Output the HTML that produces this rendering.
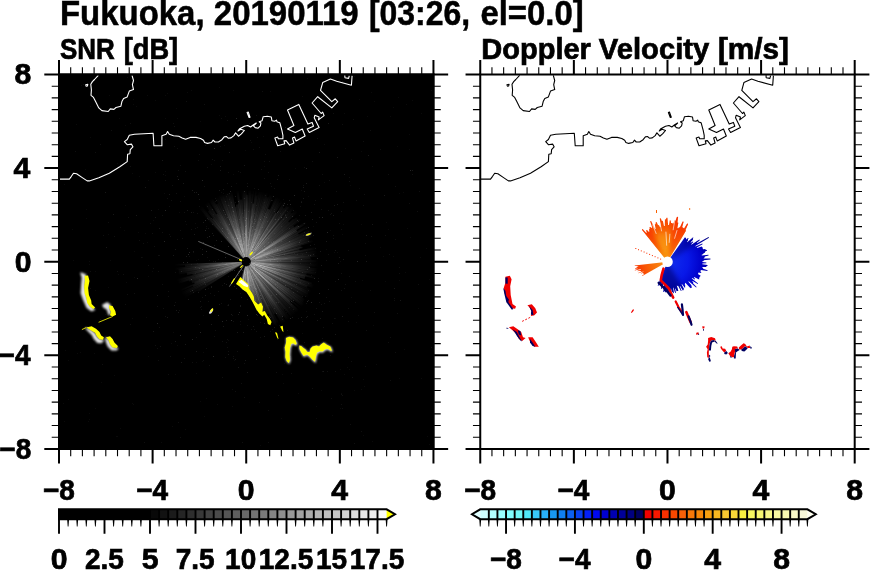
<!DOCTYPE html>
<html lang="en"><head><meta charset="utf-8"><title>Fukuoka, 20190119 [03:26, el=0.0]</title>
<style>html,body{margin:0;padding:0;background:#fff;width:870px;height:570px;overflow:hidden}svg{display:block}text{white-space:pre}</style></head>
<body>
<svg width="870" height="570" viewBox="0 0 870 570" style="display:block">
<rect width="870" height="570" fill="#fff"/>
<defs>
<radialGradient id="rg" gradientUnits="userSpaceOnUse" cx="0" cy="0" r="72"><stop offset="0" stop-color="#fff" stop-opacity="1"/><stop offset="0.15" stop-color="#fff" stop-opacity="1"/><stop offset="0.3" stop-color="#fff" stop-opacity="0.72"/><stop offset="0.5" stop-color="#fff" stop-opacity="0.4"/><stop offset="0.75" stop-color="#fff" stop-opacity="0.15"/><stop offset="1" stop-color="#fff" stop-opacity="0"/></radialGradient>
<radialGradient id="rg2" gradientUnits="userSpaceOnUse" cx="0" cy="0" r="22"><stop offset="0" stop-color="#fff" stop-opacity="0.5"/><stop offset="1" stop-color="#fff" stop-opacity="0"/></radialGradient>
<radialGradient id="og" gradientUnits="userSpaceOnUse" cx="0" cy="0" r="46"><stop offset="0" stop-color="#f8a818"/><stop offset="0.45" stop-color="#f88008"/><stop offset="1" stop-color="#f83800"/></radialGradient>
<radialGradient id="og2" gradientUnits="userSpaceOnUse" cx="0" cy="0" r="34"><stop offset="0" stop-color="#f89818"/><stop offset="0.5" stop-color="#f86808"/><stop offset="1" stop-color="#f83000"/></radialGradient>
<radialGradient id="bg" gradientUnits="userSpaceOnUse" cx="0" cy="0" r="46"><stop offset="0" stop-color="#1030f0"/><stop offset="0.45" stop-color="#0818e8"/><stop offset="0.75" stop-color="#0000c8"/><stop offset="1" stop-color="#000088"/></radialGradient>
<filter id="bl" x="-20%" y="-20%" width="140%" height="140%"><feGaussianBlur stdDeviation="0.8"/></filter>
<filter id="bl2" x="-30%" y="-30%" width="160%" height="160%"><feGaussianBlur stdDeviation="2.5"/></filter>
</defs>
<rect x="58.00" y="73.50" width="376.45" height="376.50" fill="#000"/>
<g transform="translate(246.2 261.7)">
<path d="M0 0L0.0 -66.9L2.0 -66.9Z" fill="url(#rg)" opacity="0.89"/>
<path d="M0 0L1.9 -71.3L3.4 -71.2Z" fill="url(#rg)" opacity="0.45"/>
<path d="M0 0L3.6 -82.9L6.1 -82.8Z" fill="url(#rg)" opacity="0.71"/>
<path d="M0 0L4.8 -68.0L6.5 -67.8Z" fill="url(#rg)" opacity="0.43"/>
<path d="M0 0L6.5 -71.5L8.1 -71.3Z" fill="url(#rg)" opacity="0.54"/>
<path d="M0 0L6.3 -58.1L7.6 -58.0Z" fill="url(#rg)" opacity="0.83"/>
<path d="M0 0L9.1 -72.2L10.9 -72.0Z" fill="url(#rg)" opacity="0.73"/>
<path d="M0 0L9.8 -66.3L11.2 -66.0Z" fill="url(#rg)" opacity="0.71"/>
<path d="M0 0L13.3 -80.3L15.3 -79.9Z" fill="url(#rg)" opacity="0.44"/>
<path d="M0 0L13.1 -70.2L15.3 -69.8Z" fill="url(#rg)" opacity="0.63"/>
<path d="M0 0L16.8 -78.3L19.8 -77.6Z" fill="url(#rg)" opacity="0.57"/>
<path d="M0 0L17.6 -70.2L19.4 -69.8Z" fill="url(#rg)" opacity="0.47"/>
<path d="M0 0L18.9 -69.1L20.7 -68.6Z" fill="url(#rg)" opacity="0.60"/>
<path d="M0 0L21.0 -70.9L22.5 -70.4Z" fill="url(#rg)" opacity="0.70"/>
<path d="M0 0L20.4 -64.8L22.4 -64.1Z" fill="url(#rg)" opacity="0.76"/>
<path d="M0 0L27.2 -78.9L29.6 -78.0Z" fill="url(#rg)" opacity="0.65"/>
<path d="M0 0L27.8 -74.4L30.1 -73.5Z" fill="url(#rg)" opacity="0.57"/>
<path d="M0 0L21.4 -53.0L23.9 -51.9Z" fill="url(#rg)" opacity="0.81"/>
<path d="M0 0L34.0 -74.5L36.2 -73.5Z" fill="url(#rg)" opacity="0.68"/>
<path d="M0 0L32.3 -66.2L35.4 -64.5Z" fill="url(#rg)" opacity="0.64"/>
<path d="M0 0L32.3 -59.4L33.6 -58.7Z" fill="url(#rg)" opacity="0.47"/>
<path d="M0 0L34.4 -60.8L36.2 -59.7Z" fill="url(#rg)" opacity="0.49"/>
<path d="M0 0L29.4 -48.9L30.4 -48.2Z" fill="url(#rg)" opacity="0.90"/>
<path d="M0 0L43.4 -69.5L46.1 -67.7Z" fill="url(#rg)" opacity="0.70"/>
<path d="M0 0L36.6 -54.3L38.3 -53.2Z" fill="url(#rg)" opacity="0.59"/>
<path d="M0 0L40.0 -56.0L41.7 -54.8Z" fill="url(#rg)" opacity="0.71"/>
<path d="M0 0L41.8 -55.4L43.0 -54.5Z" fill="url(#rg)" opacity="0.89"/>
<path d="M0 0L47.7 -61.0L50.5 -58.6Z" fill="url(#rg)" opacity="0.45"/>
<path d="M0 0L55.6 -65.1L57.5 -63.4Z" fill="url(#rg)" opacity="0.74"/>
<path d="M0 0L44.6 -49.5L46.1 -48.1Z" fill="url(#rg)" opacity="0.56"/>
<path d="M0 0L57.8 -60.9L60.6 -58.1Z" fill="url(#rg)" opacity="0.59"/>
<path d="M0 0L41.9 -40.5L43.1 -39.2Z" fill="url(#rg)" opacity="0.50"/>
<path d="M0 0L46.9 -42.9L47.8 -41.9Z" fill="url(#rg)" opacity="0.52"/>
<path d="M0 0L50.0 -44.3L52.1 -41.8Z" fill="url(#rg)" opacity="0.54"/>
<path d="M0 0L53.3 -43.2L54.6 -41.5Z" fill="url(#rg)" opacity="0.45"/>
<path d="M0 0L46.7 -35.8L48.1 -34.0Z" fill="url(#rg)" opacity="0.55"/>
<path d="M0 0L51.5 -36.8L52.6 -35.2Z" fill="url(#rg)" opacity="0.85"/>
<path d="M0 0L62.9 -42.4L64.2 -40.5Z" fill="url(#rg)" opacity="0.91"/>
<path d="M0 0L50.0 -31.9L51.0 -30.3Z" fill="url(#rg)" opacity="0.90"/>
<path d="M0 0L64.4 -38.7L65.4 -37.1Z" fill="url(#rg)" opacity="0.49"/>
<path d="M0 0L63.3 -36.3L64.1 -34.9Z" fill="url(#rg)" opacity="0.66"/>
<path d="M0 0L51.8 -28.5L52.7 -26.9Z" fill="url(#rg)" opacity="0.56"/>
<path d="M0 0L64.2 -33.1L65.5 -30.6Z" fill="url(#rg)" opacity="0.60"/>
<path d="M0 0L63.9 -30.2L64.6 -28.6Z" fill="url(#rg)" opacity="0.76"/>
<path d="M0 0L70.9 -31.7L72.1 -28.9Z" fill="url(#rg)" opacity="0.75"/>
<path d="M0 0L73.1 -29.7L74.0 -27.4Z" fill="url(#rg)" opacity="0.87"/>
<path d="M0 0L62.6 -23.5L63.6 -20.5Z" fill="url(#rg)" opacity="0.82"/>
<path d="M0 0L66.2 -21.6L66.8 -19.6Z" fill="url(#rg)" opacity="0.61"/>
<path d="M0 0L54.3 -16.2L54.8 -14.5Z" fill="url(#rg)" opacity="0.45"/>
<path d="M0 0L56.0 -15.1L56.4 -13.7Z" fill="url(#rg)" opacity="0.64"/>
<path d="M0 0L53.0 -13.1L53.5 -11.0Z" fill="url(#rg)" opacity="0.44"/>
<path d="M0 0L82.4 -17.4L82.8 -15.3Z" fill="url(#rg)" opacity="0.69"/>
<path d="M0 0L80.5 -15.2L81.0 -12.0Z" fill="url(#rg)" opacity="0.43"/>
<path d="M0 0L73.5 -11.3L73.9 -8.4Z" fill="url(#rg)" opacity="0.60"/>
<path d="M0 0L68.9 -8.1L69.1 -6.0Z" fill="url(#rg)" opacity="0.72"/>
<path d="M0 0L85.2 -7.8L85.4 -5.9Z" fill="url(#rg)" opacity="0.84"/>
<path d="M0 0L64.2 -4.7L64.3 -2.7Z" fill="url(#rg)" opacity="0.66"/>
<path d="M0 0L65.2 -3.1L65.3 -1.4Z" fill="url(#rg)" opacity="0.47"/>
<path d="M0 0L76.2 -2.0L76.2 0.3Z" fill="url(#rg)" opacity="0.66"/>
<path d="M0 0L84.3 0.0L84.2 3.3Z" fill="url(#rg)" opacity="0.43"/>
<path d="M0 0L76.1 2.7L75.9 5.6Z" fill="url(#rg)" opacity="0.60"/>
<path d="M0 0L63.7 4.5L63.6 5.8Z" fill="url(#rg)" opacity="0.80"/>
<path d="M0 0L76.0 6.7L75.6 10.3Z" fill="url(#rg)" opacity="0.85"/>
<path d="M0 0L82.2 10.8L81.9 13.3Z" fill="url(#rg)" opacity="0.68"/>
<path d="M0 0L70.3 11.1L70.0 13.3Z" fill="url(#rg)" opacity="0.80"/>
<path d="M0 0L60.5 11.2L60.0 13.6Z" fill="url(#rg)" opacity="0.58"/>
<path d="M0 0L78.2 17.3L77.8 19.3Z" fill="url(#rg)" opacity="0.82"/>
<path d="M0 0L59.1 14.4L58.3 17.2Z" fill="url(#rg)" opacity="0.82"/>
<path d="M0 0L53.3 15.5L52.8 17.1Z" fill="url(#rg)" opacity="0.59"/>
<path d="M0 0L66.1 21.1L65.6 22.5Z" fill="url(#rg)" opacity="0.81"/>
<path d="M0 0L80.0 27.1L79.3 29.1Z" fill="url(#rg)" opacity="0.76"/>
<path d="M0 0L72.6 26.3L71.7 28.5Z" fill="url(#rg)" opacity="0.82"/>
<path d="M0 0L61.4 24.1L60.7 25.9Z" fill="url(#rg)" opacity="0.90"/>
<path d="M0 0L63.8 27.0L63.1 28.6Z" fill="url(#rg)" opacity="0.47"/>
<path d="M0 0L67.6 30.2L66.7 32.3Z" fill="url(#rg)" opacity="0.52"/>
<path d="M0 0L62.7 30.1L61.5 32.5Z" fill="url(#rg)" opacity="0.84"/>
<path d="M0 0L66.2 34.6L64.4 37.7Z" fill="url(#rg)" opacity="0.59"/>
<path d="M0 0L57.7 33.5L56.1 36.2Z" fill="url(#rg)" opacity="0.47"/>
<path d="M0 0L58.6 37.5L56.7 40.2Z" fill="url(#rg)" opacity="0.79"/>
<path d="M0 0L60.9 42.8L59.8 44.3Z" fill="url(#rg)" opacity="0.63"/>
<path d="M0 0L68.4 50.3L67.3 51.8Z" fill="url(#rg)" opacity="0.82"/>
<path d="M0 0L61.9 47.1L60.4 49.0Z" fill="url(#rg)" opacity="0.65"/>
<path d="M0 0L46.7 37.5L45.9 38.5Z" fill="url(#rg)" opacity="0.78"/>
<path d="M0 0L56.1 46.7L54.9 48.2Z" fill="url(#rg)" opacity="0.43"/>
<path d="M0 0L44.6 38.8L43.4 40.2Z" fill="url(#rg)" opacity="0.82"/>
<path d="M0 0L55.4 50.7L53.3 52.9Z" fill="url(#rg)" opacity="0.91"/>
<path d="M0 0L51.1 50.3L49.6 51.8Z" fill="url(#rg)" opacity="0.49"/>
<path d="M0 0L59.0 61.1L57.6 62.3Z" fill="url(#rg)" opacity="0.42"/>
<path d="M0 0L53.2 57.0L50.4 59.5Z" fill="url(#rg)" opacity="0.47"/>
<path d="M0 0L53.1 62.2L51.5 63.5Z" fill="url(#rg)" opacity="0.63"/>
<path d="M0 0L38.8 47.4L37.6 48.4Z" fill="url(#rg)" opacity="0.43"/>
<path d="M0 0L45.0 57.4L42.7 59.1Z" fill="url(#rg)" opacity="0.54"/>
<path d="M0 0L47.5 65.1L45.5 66.6Z" fill="url(#rg)" opacity="0.69"/>
<path d="M0 0L37.3 54.0L36.1 54.8Z" fill="url(#rg)" opacity="0.87"/>
<path d="M0 0L44.3 66.7L42.2 68.0Z" fill="url(#rg)" opacity="0.75"/>
<path d="M0 0L44.2 70.5L41.4 72.2Z" fill="url(#rg)" opacity="0.63"/>
<path d="M0 0L29.8 51.3L27.7 52.5Z" fill="url(#rg)" opacity="0.48"/>
<path d="M0 0L32.2 60.3L29.8 61.5Z" fill="url(#rg)" opacity="0.42"/>
<path d="M0 0L34.7 70.8L32.9 71.6Z" fill="url(#rg)" opacity="0.72"/>
<path d="M0 0L29.2 62.9L27.6 63.6Z" fill="url(#rg)" opacity="0.50"/>
<path d="M0 0L22.7 51.8L20.2 52.8Z" fill="url(#rg)" opacity="0.47"/>
<path d="M0 0L26.0 67.1L22.8 68.2Z" fill="url(#rg)" opacity="0.68"/>
<path d="M0 0L18.1 53.4L16.9 53.8Z" fill="url(#rg)" opacity="0.86"/>
<path d="M0 0L23.9 75.0L22.0 75.6Z" fill="url(#rg)" opacity="0.55"/>
<path d="M0 0L15.8 53.2L13.7 53.8Z" fill="url(#rg)" opacity="0.64"/>
<path d="M0 0L18.5 71.4L16.9 71.7Z" fill="url(#rg)" opacity="0.64"/>
<path d="M0 0L14.2 59.1L11.9 59.7Z" fill="url(#rg)" opacity="0.72"/>
<path d="M0 0L14.2 69.8L12.1 70.2Z" fill="url(#rg)" opacity="0.64"/>
<path d="M0 0L10.8 61.4L8.9 61.7Z" fill="url(#rg)" opacity="0.67"/>
<path d="M0 0L12.4 83.1L9.1 83.5Z" fill="url(#rg)" opacity="0.86"/>
<path d="M0 0L9.3 81.9L6.8 82.2Z" fill="url(#rg)" opacity="0.88"/>
<path d="M0 0L5.1 58.7L3.6 58.8Z" fill="url(#rg)" opacity="0.84"/>
<path d="M0 0L4.3 64.3L2.9 64.4Z" fill="url(#rg)" opacity="0.61"/>
<path d="M0 0L2.8 56.8L0.0 56.9Z" fill="url(#rg)" opacity="0.54"/>
<path d="M0 0L0.3 58.4L-2.5 58.4Z" fill="url(#rg)" opacity="0.57"/>
<path d="M0 0L-2.9 74.6L-4.8 74.5Z" fill="url(#rg)" opacity="0.89"/>
<path d="M0 0L-4.9 82.0L-7.4 81.8Z" fill="url(#rg)" opacity="0.49"/>
<path d="M0 0L-7.2 84.0L-9.8 83.8Z" fill="url(#rg)" opacity="0.53"/>
<path d="M0 0L-6.7 59.3L-8.5 59.1Z" fill="url(#rg)" opacity="0.86"/>
<path d="M0 0L-8.2 59.1L-11.0 58.6Z" fill="url(#rg)" opacity="0.84"/>
<path d="M0 0L-12.1 66.1L-14.1 65.7Z" fill="url(#rg)" opacity="0.79"/>
<path d="M0 0L-13.3 63.2L-15.2 62.7Z" fill="url(#rg)" opacity="0.34"/>
<path d="M0 0L-15.1 63.4L-18.1 62.6Z" fill="url(#rg)" opacity="0.25"/>
<path d="M0 0L-15.1 53.1L-16.7 52.6Z" fill="url(#rg)" opacity="0.11"/>
<path d="M0 0L-47.7 30.1L-48.6 28.7Z" fill="url(#rg)" opacity="0.20"/>
<path d="M0 0L-70.9 42.3L-72.8 38.8Z" fill="url(#rg)" opacity="0.22"/>
<path d="M0 0L-65.5 35.3L-66.5 33.3Z" fill="url(#rg)" opacity="0.39"/>
<path d="M0 0L-72.6 36.7L-73.7 34.4Z" fill="url(#rg)" opacity="0.37"/>
<path d="M0 0L-52.8 25.0L-53.3 23.8Z" fill="url(#rg)" opacity="0.45"/>
<path d="M0 0L-65.5 29.6L-66.1 28.1Z" fill="url(#rg)" opacity="0.48"/>
<path d="M0 0L-51.4 22.1L-52.0 20.6Z" fill="url(#rg)" opacity="0.59"/>
<path d="M0 0L-53.9 21.5L-54.8 18.9Z" fill="url(#rg)" opacity="0.44"/>
<path d="M0 0L-56.9 19.9L-57.4 18.5Z" fill="url(#rg)" opacity="0.45"/>
<path d="M0 0L-67.6 22.1L-68.3 20.0Z" fill="url(#rg)" opacity="0.60"/>
<path d="M0 0L-67.3 20.1L-67.8 18.3Z" fill="url(#rg)" opacity="0.46"/>
<path d="M0 0L-76.8 21.2L-77.3 19.2Z" fill="url(#rg)" opacity="0.45"/>
<path d="M0 0L-53.5 13.5L-53.9 11.9Z" fill="url(#rg)" opacity="0.35"/>
<path d="M0 0L-59.0 13.3L-59.5 11.0Z" fill="url(#rg)" opacity="0.56"/>
<path d="M0 0L-67.4 12.7L-67.7 10.7Z" fill="url(#rg)" opacity="0.44"/>
<path d="M0 0L-67.2 10.9L-67.7 7.6Z" fill="url(#rg)" opacity="0.68"/>
<path d="M0 0L-81.8 9.6L-82.0 7.1Z" fill="url(#rg)" opacity="0.56"/>
<path d="M0 0L-61.1 5.6L-61.2 3.2Z" fill="url(#rg)" opacity="0.46"/>
<path d="M0 0L-80.4 4.5L-80.5 2.5Z" fill="url(#rg)" opacity="0.48"/>
<path d="M0 0L-42.7 -46.1L-41.3 -47.4Z" fill="url(#rg)" opacity="0.12"/>
<path d="M0 0L-47.3 -53.8L-45.6 -55.3Z" fill="url(#rg)" opacity="0.44"/>
<path d="M0 0L-52.6 -63.1L-51.0 -64.4Z" fill="url(#rg)" opacity="0.33"/>
<path d="M0 0L-34.1 -42.7L-33.0 -43.5Z" fill="url(#rg)" opacity="0.59"/>
<path d="M0 0L-38.4 -50.3L-36.9 -51.4Z" fill="url(#rg)" opacity="0.46"/>
<path d="M0 0L-41.2 -57.0L-38.5 -58.9Z" fill="url(#rg)" opacity="0.52"/>
<path d="M0 0L-44.1 -66.9L-42.6 -67.8Z" fill="url(#rg)" opacity="0.46"/>
<path d="M0 0L-30.0 -47.2L-28.7 -47.9Z" fill="url(#rg)" opacity="0.62"/>
<path d="M0 0L-38.5 -63.5L-37.1 -64.3Z" fill="url(#rg)" opacity="0.57"/>
<path d="M0 0L-35.8 -61.5L-34.4 -62.2Z" fill="url(#rg)" opacity="0.71"/>
<path d="M0 0L-37.5 -67.2L-35.8 -68.1Z" fill="url(#rg)" opacity="0.75"/>
<path d="M0 0L-30.4 -57.2L-28.1 -58.3Z" fill="url(#rg)" opacity="0.61"/>
<path d="M0 0L-33.8 -69.4L-31.7 -70.4Z" fill="url(#rg)" opacity="0.49"/>
<path d="M0 0L-33.3 -73.1L-29.8 -74.6Z" fill="url(#rg)" opacity="0.49"/>
<path d="M0 0L-27.8 -68.8L-24.5 -70.0Z" fill="url(#rg)" opacity="0.87"/>
<path d="M0 0L-23.5 -66.3L-20.3 -67.4Z" fill="url(#rg)" opacity="0.77"/>
<path d="M0 0L-21.1 -69.2L-18.4 -70.0Z" fill="url(#rg)" opacity="0.79"/>
<path d="M0 0L-18.8 -70.3L-17.3 -70.7Z" fill="url(#rg)" opacity="0.83"/>
<path d="M0 0L-18.4 -74.0L-14.9 -74.8Z" fill="url(#rg)" opacity="0.76"/>
<path d="M0 0L-11.1 -54.8L-9.8 -55.0Z" fill="url(#rg)" opacity="0.46"/>
<path d="M0 0L-10.3 -56.9L-7.6 -57.4Z" fill="url(#rg)" opacity="0.60"/>
<path d="M0 0L-10.1 -73.5L-7.8 -73.8Z" fill="url(#rg)" opacity="0.70"/>
<path d="M0 0L-6.8 -61.9L-3.9 -62.1Z" fill="url(#rg)" opacity="0.68"/>
<path d="M0 0L-5.3 -79.3L-2.8 -79.4Z" fill="url(#rg)" opacity="0.42"/>
<path d="M0 0L-3.3 -82.5L0.6 -82.6Z" fill="url(#rg)" opacity="0.89"/>
<path d="M-10.2 22.4 L-6.6 24.8 L-3.5 27.9 L0.2 30.4 L3.2 34.7 L5.7 38.9 L8.2 43.9 L10.0 47.5 L13.1 51.8 L16.1 54.9 L18.6 53.9 L20.8 58.0 L22.0 62.3 L24.1 63.5 L60.3 158.8 L-61.2 134.7Z" fill="#000"/>
<line x1="0" y1="0" x2="-47.9" y2="-20.3" stroke="#ddd" stroke-width="0.6" opacity="0.75"/>
<line x1="0" y1="0" x2="-16.8" y2="24.9" stroke="#ddd" stroke-width="0.6" opacity="0.80"/>
<circle r="4.7" fill="#000"/>
</g>
<g filter="url(#bl)" opacity="0.9">
<path d="M81.1 273.2 L85.4 274.9 L84.2 286.3 L86.3 297.7 L89.8 306.5 L94.2 309.6 L91.6 310.5 L87.2 307.4 L83.7 299.5 L81.4 293.3 L81.9 284.6 L82.5 277.5Z" fill="#fff" stroke="#fff" stroke-width="1.6" stroke-linejoin="round"/>
<path d="M103.0 305.3 L107.4 303.0 L110.0 305.3 L109.1 308.2 L110.5 312.6 L109.1 314.4 L107.4 309.1 L103.9 307.0Z" fill="#fff" stroke="#fff" stroke-width="1.6" stroke-linejoin="round"/>
<path d="M86.3 328.4 L90.7 330.5 L94.7 333.7 L96.5 337.2 L99.5 339.8 L103.0 340.4 L101.2 342.5 L97.7 342.1 L94.2 338.1 L92.5 334.6 L88.9 331.1Z" fill="#fff" stroke="#fff" stroke-width="1.6" stroke-linejoin="round"/>
<path d="M106.0 338.1 L108.8 341.1 L110.0 344.6 L112.6 347.7 L117.5 348.6 L116.1 349.8 L111.8 349.8 L108.2 346.0 L106.5 341.6Z" fill="#fff" stroke="#fff" stroke-width="1.6" stroke-linejoin="round"/>
<path d="M286.3 338.5 L289.5 337.3 L293.6 338.1 L296.0 340.9 L297.2 344.6 L295.6 345.4 L293.6 343.8 L291.5 344.6 L290.3 349.0 L289.9 354.7 L290.3 360.3 L289.1 363.5 L287.1 361.5 L285.7 357.9 L285.9 352.2 L285.1 348.2 L286.3 344.2 L286.7 341.3Z" fill="#fff" stroke="#fff" stroke-width="0.9" stroke-linejoin="round"/>
<path d="M299.6 346.3 L301.6 346.7 L303.7 348.7 L305.7 349.9 L307.7 352.7 L310.1 352.7 L310.9 349.1 L312.9 347.1 L317.0 346.3 L319.4 347.1 L321.8 344.7 L324.2 343.1 L327.1 345.5 L330.7 347.1 L332.3 351.5 L331.1 351.5 L328.3 349.5 L325.5 349.9 L323.0 352.3 L320.2 351.9 L317.4 353.2 L316.2 357.2 L315.4 362.4 L312.9 360.4 L310.1 357.2 L307.7 355.2 L305.7 355.6 L304.1 356.8 L302.0 353.6 L300.0 349.9Z" fill="#fff" stroke="#fff" stroke-width="0.9" stroke-linejoin="round"/>
</g>
<path d="M84.6 275.8 L88.1 275.4 L89.5 281.1 L88.1 288.1 L88.9 295.1 L91.2 300.4 L91.6 303.9 L95.1 307.4 L93.3 309.1 L89.8 306.5 L87.2 303.0 L86.3 297.7 L84.6 293.3 L84.2 286.3 L84.9 281.1Z" fill="#ffff00" />
<path d="M109.1 305.3 L112.6 306.0 L115.3 310.9 L116.1 314.7 L112.6 316.5 L110.0 315.3 L110.9 311.8 L109.1 308.2Z" fill="#ffff00" />
<path d="M86.3 327.5 L91.6 326.3 L96.0 328.8 L99.5 331.9 L101.2 335.4 L103.9 337.2 L103.0 339.8 L99.5 339.3 L96.8 336.3 L95.1 332.8 L90.7 330.2Z" fill="#ffff00" />
<path d="M106.0 337.2 L110.0 336.3 L112.6 338.9 L114.4 342.5 L117.9 346.0 L117.0 348.1 L112.6 347.4 L110.0 344.2 L108.8 340.7Z" fill="#ffff00" />
<path d="M236.0 284.1 L240.3 277.1 L243.3 279.8 L248.2 284.1 L248.9 288.4 L251.9 292.7 L253.8 296.4 L254.4 300.7 L258.1 304.4 L261.1 302.5 L263.0 306.8 L262.4 311.7 L264.8 311.1 L267.3 315.4 L269.7 318.5 L271.6 322.1 L270.3 325.2 L267.9 324.0 L266.7 319.1 L264.2 314.8 L262.4 316.6 L259.3 313.6 L256.2 309.3 L254.4 305.6 L251.9 300.7 L249.5 296.4 L246.4 292.1 L242.7 289.6 L239.7 286.6Z" fill="#ffff00" />
<path d="M275.0 332.3 L277.0 332.7 L278.6 339.1 L277.4 338.3Z" fill="#ffff00" />
<path d="M280.2 326.6 L282.7 325.8 L283.5 332.3 L282.3 331.1Z" fill="#ffff00" />
<path d="M285.9 337.9 L289.1 336.7 L293.2 337.5 L295.6 340.3 L296.8 344.0 L295.2 344.8 L293.2 343.2 L291.1 344.0 L289.9 348.4 L289.5 354.1 L289.9 359.7 L288.7 362.9 L286.7 360.9 L285.3 357.3 L285.5 351.6 L284.7 347.6 L285.9 343.6 L286.3 340.7Z" fill="#ffff00" />
<path d="M299.2 345.6 L301.2 346.0 L303.3 348.0 L305.3 349.2 L307.3 352.0 L309.7 352.0 L310.5 348.4 L312.5 346.4 L316.6 345.6 L319.0 346.4 L321.4 344.0 L323.8 342.4 L326.7 344.8 L330.3 346.4 L331.9 350.8 L330.7 350.8 L327.9 348.8 L325.1 349.2 L322.6 351.6 L319.8 351.2 L317.0 352.5 L315.8 356.5 L315.0 361.7 L312.5 359.7 L309.7 356.5 L307.3 354.5 L305.3 354.9 L303.7 356.1 L301.6 352.9 L299.6 349.2Z" fill="#ffff00" />
<path d="M238.4 281.7 L241.5 279.8 L244.6 282.3 L248.2 285.3 L247.6 287.2 L244.0 286.0 L241.5 284.1Z" fill="#fff" />
<path d="M98.6 322.3 L112.6 316.5 M81.9 329.6 L86.3 327.5" stroke="#ffff00" stroke-width="0.8" fill="none"/>
<ellipse cx="211.2" cy="311.2" rx="3.0" ry="1.3" fill="#ddd" transform="rotate(-55 211.2 311.2)"/>
<ellipse cx="211.8" cy="310.2" rx="2.2" ry="0.8" fill="#ffff00" transform="rotate(-55 211.8 310.2)"/>
<ellipse cx="308.6" cy="234.4" rx="3.2" ry="1.2" fill="#888" transform="rotate(-20 308.6 234.4)"/>
<ellipse cx="308.4" cy="234.4" rx="2.5" ry="0.7" fill="#ffff00" transform="rotate(-20 308.4 234.4)"/>
<ellipse cx="251.2" cy="253.6" rx="2.5" ry="0.8" fill="#ffff00" transform="rotate(-50 251.2 253.6)"/>
<ellipse cx="240.6" cy="260.2" rx="1.8" ry="1.0" fill="#ffff00" transform="rotate(30 240.6 260.2)"/>
<ellipse cx="233.0" cy="281.0" rx="3.5" ry="0.7" fill="#ffff00" transform="rotate(-60 233.0 281.0)"/>
<ellipse cx="241.5" cy="266.5" rx="2.0" ry="0.6" fill="#ffff00" transform="rotate(-45 241.5 266.5)"/>
<path d="M95 271.5h1M337 252.5h1M361 389.5h1M148 356.5h1M146 317.5h1M232 389.5h1M89 413.5h1M167 93.5h1M295 149.5h1M283 199.5h1M302 333.5h1M291 125.5h1M240 256.5h1M421 113.5h1M142 257.5h1M324 182.5h1M234 360.5h1M429 279.5h1M176 108.5h1M236 183.5h1M89 264.5h1M429 444.5h1M204 416.5h1M406 104.5h1M94 353.5h1M158 209.5h1M285 310.5h1M165 118.5h1M196 260.5h1M386 222.5h1M120 428.5h1M313 226.5h1M330 230.5h1M200 121.5h1M184 196.5h1M186 224.5h1M409 149.5h1M65 350.5h1M155 100.5h1M206 398.5h1M89 419.5h1M341 393.5h1M165 95.5h1M306 311.5h1M116 436.5h1M223 193.5h1M347 367.5h1M219 87.5h1M343 224.5h1M385 281.5h1M136 106.5h1M407 228.5h1M289 127.5h1M383 256.5h1M399 280.5h1M124 230.5h1M165 171.5h1M335 318.5h1M211 164.5h1M240 324.5h1M105 314.5h1M89 261.5h1M362 280.5h1M229 199.5h1M342 234.5h1M264 166.5h1M126 282.5h1M179 212.5h1M361 151.5h1M68 399.5h1M203 352.5h1M139 176.5h1M340 261.5h1M274 209.5h1M315 272.5h1M354 390.5h1M95 408.5h1M203 315.5h1M221 192.5h1M363 435.5h1M108 234.5h1M344 374.5h1M420 257.5h1M88 421.5h1M405 272.5h1M234 242.5h1M351 159.5h1M117 436.5h1M101 382.5h1M321 390.5h1M393 107.5h1M349 77.5h1M108 287.5h1M75 341.5h1M418 308.5h1M257 238.5h1M344 113.5h1M172 426.5h1M132 173.5h1M354 76.5h1M260 445.5h1M164 193.5h1M372 166.5h1M256 279.5h1M72 229.5h1M302 96.5h1M133 404.5h1M301 106.5h1M145 233.5h1M198 259.5h1M319 342.5h1M195 223.5h1M64 184.5h1M374 101.5h1M245 150.5h1M345 148.5h1M233 174.5h1M390 116.5h1M292 302.5h1M393 256.5h1M398 97.5h1M281 418.5h1M81 85.5h1M282 230.5h1M324 144.5h1M228 340.5h1M177 118.5h1M90 137.5h1M132 318.5h1M255 249.5h1M177 345.5h1M372 441.5h1M225 116.5h1M90 106.5h1M217 404.5h1M269 357.5h1M202 361.5h1M175 374.5h1M94 337.5h1M134 277.5h1M226 196.5h1M334 252.5h1M295 168.5h1M293 226.5h1M200 248.5h1M359 99.5h1M133 99.5h1M285 210.5h1M185 429.5h1M77 353.5h1M316 418.5h1M171 343.5h1M282 374.5h1M412 100.5h1M367 116.5h1M326 249.5h1M349 369.5h1M399 378.5h1M110 260.5h1M64 421.5h1M173 332.5h1M117 163.5h1M380 247.5h1M351 297.5h1M251 221.5h1M120 227.5h1M302 254.5h1M263 136.5h1M219 115.5h1M88 307.5h1M138 232.5h1M427 436.5h1M125 125.5h1M232 406.5h1M148 276.5h1M348 357.5h1M350 185.5h1M165 175.5h1M155 172.5h1M224 145.5h1M148 180.5h1M397 146.5h1M85 169.5h1M152 271.5h1M302 113.5h1M233 90.5h1M63 403.5h1M147 242.5h1M200 401.5h1M147 95.5h1M283 383.5h1M133 104.5h1M251 142.5h1M284 363.5h1M307 78.5h1M297 339.5h1M191 90.5h1M187 92.5h1M431 90.5h1M332 415.5h1M363 379.5h1M213 214.5h1M291 105.5h1M73 260.5h1M240 227.5h1M356 322.5h1M118 274.5h1M303 223.5h1M161 442.5h1M308 231.5h1M80 352.5h1M388 229.5h1M68 360.5h1M358 315.5h1M206 226.5h1M410 237.5h1M119 118.5h1M95 290.5h1M196 362.5h1M109 95.5h1M114 375.5h1M208 288.5h1M404 349.5h1M125 205.5h1M121 140.5h1M86 218.5h1M340 369.5h1M359 188.5h1M371 92.5h1M399 193.5h1M286 312.5h1M93 340.5h1M316 406.5h1M298 393.5h1M291 304.5h1M134 251.5h1M270 91.5h1M409 134.5h1M194 131.5h1M421 378.5h1M132 403.5h1M373 325.5h1M308 196.5h1M205 245.5h1M376 364.5h1M301 190.5h1M153 220.5h1M197 263.5h1M127 77.5h1M426 248.5h1M227 305.5h1M364 386.5h1M361 224.5h1M86 209.5h1M196 373.5h1M248 319.5h1M76 124.5h1M403 192.5h1M328 106.5h1M340 408.5h1" stroke="#fff" stroke-width="1" opacity="0.04" fill="none"/>
<path d="M177 148.5h1M280 260.5h1M165 180.5h1M283 281.5h1M299 215.5h1M302 131.5h1M205 145.5h1M278 395.5h1M208 219.5h1M206 348.5h1M321 209.5h1M153 268.5h1M211 218.5h1M218 291.5h1M165 316.5h1M240 321.5h1M157 348.5h1M241 383.5h1M394 300.5h1M333 238.5h1M139 240.5h1M298 221.5h1M108 222.5h1M247 183.5h1M201 306.5h1M293 309.5h1M300 282.5h1M111 130.5h1M226 342.5h1M180 437.5h1M370 130.5h1M349 181.5h1M251 202.5h1M225 357.5h1M190 291.5h1M335 281.5h1M235 240.5h1M344 288.5h1M222 341.5h1M177 239.5h1M240 293.5h1M158 360.5h1M259 266.5h1M290 144.5h1M226 263.5h1M320 343.5h1M235 391.5h1M277 250.5h1M320 112.5h1M171 200.5h1M180 201.5h1M207 257.5h1M279 255.5h1M300 263.5h1M341 394.5h1M334 318.5h1M225 214.5h1M175 302.5h1M185 171.5h1M163 308.5h1M225 254.5h1M83 84.5h1M238 171.5h1M182 238.5h1M100 319.5h1M348 308.5h1M244 363.5h1M365 366.5h1M412 174.5h1M250 280.5h1M178 170.5h1M186 101.5h1M314 244.5h1M395 186.5h1M329 301.5h1M331 398.5h1M280 213.5h1M342 395.5h1M279 325.5h1M193 212.5h1M353 119.5h1M395 239.5h1M170 236.5h1M244 254.5h1M268 410.5h1M270 183.5h1M169 206.5h1M261 272.5h1M332 323.5h1M361 431.5h1M247 237.5h1M322 338.5h1M279 263.5h1M394 298.5h1M256 205.5h1M341 229.5h1M173 123.5h1M257 137.5h1M210 293.5h1M258 274.5h1M409 203.5h1M253 223.5h1M253 149.5h1M213 261.5h1M280 151.5h1M233 321.5h1M247 325.5h1M274 245.5h1M262 91.5h1M265 154.5h1M191 264.5h1M249 123.5h1M341 273.5h1M321 304.5h1M345 284.5h1M221 118.5h1M197 227.5h1M168 291.5h1M222 377.5h1M318 278.5h1M348 321.5h1M342 81.5h1M95 152.5h1M154 246.5h1M327 371.5h1M303 235.5h1M342 408.5h1M261 169.5h1M348 250.5h1M305 296.5h1M395 352.5h1M349 177.5h1M157 306.5h1M208 301.5h1M168 296.5h1M354 443.5h1M130 123.5h1M323 327.5h1M214 160.5h1M349 276.5h1M103 235.5h1M162 284.5h1M215 330.5h1M231 202.5h1M260 322.5h1M180 165.5h1M193 252.5h1M256 115.5h1M163 174.5h1M371 236.5h1M197 213.5h1M268 442.5h1M242 442.5h1M297 254.5h1M225 214.5h1M277 290.5h1M232 315.5h1M247 291.5h1M304 223.5h1M315 200.5h1M399 267.5h1M203 276.5h1M315 248.5h1M310 263.5h1M252 247.5h1M259 402.5h1M222 160.5h1M165 139.5h1M198 160.5h1M329 180.5h1M206 228.5h1M268 290.5h1M199 279.5h1M204 104.5h1M256 331.5h1M242 213.5h1M303 185.5h1M399 273.5h1M143 243.5h1M363 141.5h1M247 265.5h1M333 113.5h1M297 291.5h1M276 372.5h1M300 240.5h1M168 374.5h1M203 269.5h1M239 257.5h1M271 186.5h1M184 358.5h1M289 338.5h1M363 205.5h1M172 185.5h1M251 329.5h1M280 266.5h1M343 202.5h1M207 167.5h1M302 296.5h1M102 364.5h1M333 235.5h1M341 404.5h1M374 312.5h1M290 356.5h1M227 120.5h1M320 344.5h1M317 138.5h1M259 147.5h1M268 172.5h1M264 202.5h1M220 146.5h1M365 243.5h1M117 271.5h1M274 188.5h1M215 201.5h1M148 265.5h1M390 337.5h1M289 307.5h1M228 276.5h1M191 229.5h1M339 223.5h1M196 337.5h1M224 212.5h1M308 283.5h1M176 193.5h1M281 217.5h1M127 294.5h1M272 329.5h1M152 233.5h1M388 342.5h1M150 223.5h1M227 339.5h1M259 285.5h1M312 161.5h1M280 280.5h1M130 324.5h1M158 271.5h1M90 271.5h1M235 202.5h1M304 342.5h1M248 211.5h1M203 360.5h1M189 256.5h1M175 272.5h1M365 255.5h1M282 319.5h1M243 243.5h1M370 290.5h1M389 254.5h1M324 303.5h1M254 213.5h1M270 331.5h1M276 279.5h1M215 198.5h1M269 161.5h1M304 223.5h1M221 303.5h1M311 275.5h1M199 324.5h1M144 442.5h1M300 206.5h1M277 339.5h1M288 288.5h1M243 217.5h1M284 250.5h1M328 254.5h1M180 230.5h1M185 221.5h1M270 270.5h1M289 179.5h1M255 229.5h1M158 255.5h1M222 285.5h1M199 154.5h1M274 233.5h1M355 281.5h1M220 222.5h1M174 126.5h1M222 272.5h1M263 250.5h1M281 226.5h1M209 365.5h1M283 219.5h1M267 258.5h1M162 215.5h1M328 210.5h1M114 236.5h1M264 178.5h1M227 183.5h1M355 302.5h1M229 219.5h1M264 161.5h1M326 297.5h1M336 191.5h1M243 260.5h1M285 214.5h1M314 314.5h1M237 351.5h1M134 293.5h1M316 222.5h1M250 140.5h1M330 355.5h1M227 347.5h1M141 257.5h1M380 149.5h1M270 261.5h1M397 313.5h1M212 159.5h1M202 297.5h1M100 144.5h1M304 167.5h1M178 422.5h1M240 172.5h1M350 424.5h1M390 380.5h1M322 371.5h1M123 274.5h1M195 273.5h1M254 188.5h1M233 358.5h1M174 146.5h1M130 166.5h1M250 242.5h1M335 371.5h1M75 151.5h1M254 329.5h1M160 346.5h1M260 337.5h1M227 194.5h1M247 299.5h1M364 194.5h1M265 195.5h1M352 377.5h1M294 253.5h1M385 235.5h1M128 217.5h1M159 255.5h1M169 234.5h1M155 345.5h1M243 279.5h1M159 327.5h1M341 211.5h1M326 260.5h1M162 232.5h1M236 277.5h1M179 310.5h1M244 397.5h1M214 336.5h1M268 305.5h1M366 330.5h1M228 351.5h1M170 356.5h1M287 211.5h1M330 214.5h1M301 201.5h1M222 262.5h1M245 272.5h1M233 356.5h1M294 284.5h1M319 185.5h1M208 228.5h1M306 228.5h1M319 302.5h1M167 198.5h1M351 361.5h1M239 267.5h1M323 271.5h1M228 172.5h1M342 124.5h1M322 174.5h1M356 200.5h1M308 290.5h1M256 288.5h1M331 213.5h1M312 388.5h1M214 295.5h1M244 210.5h1M419 191.5h1M341 290.5h1M418 284.5h1M248 345.5h1M244 128.5h1M218 259.5h1M249 263.5h1M291 373.5h1M184 212.5h1M204 186.5h1M201 309.5h1M200 307.5h1M125 304.5h1M388 174.5h1M90 288.5h1M265 213.5h1M267 229.5h1M199 206.5h1M251 125.5h1M417 211.5h1M240 266.5h1M431 347.5h1M228 304.5h1M306 303.5h1M192 362.5h1M287 330.5h1M314 204.5h1M298 318.5h1M253 272.5h1M195 228.5h1M272 200.5h1M316 308.5h1M209 260.5h1" stroke="#fff" stroke-width="1" opacity="0.06" fill="none"/>
<path d="M175 249.5h1M282 133.5h1M155 217.5h1M320 318.5h1M310 245.5h1M249 296.5h1M256 310.5h1M224 272.5h1M328 123.5h1M301 317.5h1M191 279.5h1M193 251.5h1M285 127.5h1M240 306.5h1M307 269.5h1M246 289.5h1M289 200.5h1M256 289.5h1M169 194.5h1M321 198.5h1M255 221.5h1M306 317.5h1M227 229.5h1M249 263.5h1M229 193.5h1M319 152.5h1M202 249.5h1M237 332.5h1M275 247.5h1M174 305.5h1M307 316.5h1M253 326.5h1M267 254.5h1M231 186.5h1M285 215.5h1M384 195.5h1M299 278.5h1M256 359.5h1M334 205.5h1M301 202.5h1M289 228.5h1M322 311.5h1M240 259.5h1M262 227.5h1M253 279.5h1M228 233.5h1M226 320.5h1M263 252.5h1M333 215.5h1M245 360.5h1M212 209.5h1M257 315.5h1M238 275.5h1M271 295.5h1M181 271.5h1M254 229.5h1M335 334.5h1M214 245.5h1M264 336.5h1M199 268.5h1M262 252.5h1M196 192.5h1M191 212.5h1M394 288.5h1M302 272.5h1M167 317.5h1M229 152.5h1M105 192.5h1M228 305.5h1M207 237.5h1M302 321.5h1M185 344.5h1M248 248.5h1M280 278.5h1M236 288.5h1M233 221.5h1M204 282.5h1M313 254.5h1M400 300.5h1M268 253.5h1M303 198.5h1M319 217.5h1M183 183.5h1M277 261.5h1M259 262.5h1M254 271.5h1M291 288.5h1M262 272.5h1M372 224.5h1M271 242.5h1M145 187.5h1M191 279.5h1M344 174.5h1M213 235.5h1M244 165.5h1M238 314.5h1M239 219.5h1M200 301.5h1M175 341.5h1M231 314.5h1M258 243.5h1M234 286.5h1M113 214.5h1M153 331.5h1M323 371.5h1M230 299.5h1M238 367.5h1M256 274.5h1M321 265.5h1M212 224.5h1M216 200.5h1M278 211.5h1M258 189.5h1M335 250.5h1M304 232.5h1M237 229.5h1M274 327.5h1M235 359.5h1M342 316.5h1M412 170.5h1M243 332.5h1M194 192.5h1M230 269.5h1M193 292.5h1M293 292.5h1M284 254.5h1M278 219.5h1M233 237.5h1M303 187.5h1M240 305.5h1M212 309.5h1M187 210.5h1M343 259.5h1M306 252.5h1M231 320.5h1M271 200.5h1M224 283.5h1M274 211.5h1M326 241.5h1M254 304.5h1M366 235.5h1M264 252.5h1M247 372.5h1M231 320.5h1M223 326.5h1M157 295.5h1M244 198.5h1M237 259.5h1M225 201.5h1M273 257.5h1M260 311.5h1M173 255.5h1M281 241.5h1M274 308.5h1M176 310.5h1M311 212.5h1M220 170.5h1M296 284.5h1M238 271.5h1M240 287.5h1M227 217.5h1M181 362.5h1M106 247.5h1M207 206.5h1M267 221.5h1M297 220.5h1M318 281.5h1M308 300.5h1M192 190.5h1M249 248.5h1M339 257.5h1M136 215.5h1M232 270.5h1M266 257.5h1M295 339.5h1M151 210.5h1M305 215.5h1M275 284.5h1M227 237.5h1M187 248.5h1M274 259.5h1M313 235.5h1M195 267.5h1M277 179.5h1M223 189.5h1M277 287.5h1M250 269.5h1M177 176.5h1M271 249.5h1M280 327.5h1M291 260.5h1M178 312.5h1M270 260.5h1M255 294.5h1M292 317.5h1M255 261.5h1M293 210.5h1M216 276.5h1M368 155.5h1M328 289.5h1M219 190.5h1M205 284.5h1M249 244.5h1M268 238.5h1M278 302.5h1M366 261.5h1M211 287.5h1M196 351.5h1M211 324.5h1M308 241.5h1M312 219.5h1M205 295.5h1M219 304.5h1M250 267.5h1M266 217.5h1M277 282.5h1M159 228.5h1M194 234.5h1M264 216.5h1M226 284.5h1M188 299.5h1M212 233.5h1M215 261.5h1M304 191.5h1M203 222.5h1M320 251.5h1M198 292.5h1M317 320.5h1M242 234.5h1M306 183.5h1M253 242.5h1M246 225.5h1M338 263.5h1M220 166.5h1M256 291.5h1M268 242.5h1M337 204.5h1M254 219.5h1M248 232.5h1M228 354.5h1M211 286.5h1M287 204.5h1M199 199.5h1M337 157.5h1M276 302.5h1M278 175.5h1M262 248.5h1M235 196.5h1M308 255.5h1M273 241.5h1M241 297.5h1M222 231.5h1M228 205.5h1M207 218.5h1M254 223.5h1M247 186.5h1M162 160.5h1M216 240.5h1M186 256.5h1" stroke="#fff" stroke-width="1" opacity="0.09" fill="none"/>
<path d="M308 227.5h1M165 210.5h1M307 301.5h1M202 180.5h1M292 216.5h1M214 148.5h1M247 245.5h1M222 321.5h1M200 332.5h1M192 290.5h1M310 255.5h1M262 306.5h1M192 339.5h1M216 269.5h1M188 254.5h1M283 205.5h1M189 252.5h1M269 316.5h1M294 195.5h1M225 257.5h1M327 232.5h1M228 246.5h1M290 318.5h1M255 288.5h1M277 249.5h1M242 270.5h1M237 238.5h1M233 211.5h1M187 262.5h1M317 258.5h1M293 300.5h1M245 234.5h1M238 201.5h1M256 314.5h1M285 285.5h1M311 232.5h1M318 352.5h1M275 219.5h1M270 317.5h1M301 259.5h1M338 279.5h1M245 274.5h1M213 356.5h1M276 294.5h1M221 241.5h1M240 251.5h1M137 278.5h1M183 262.5h1M218 315.5h1M247 315.5h1M299 242.5h1M260 219.5h1M241 269.5h1M239 312.5h1M244 191.5h1M243 241.5h1M252 246.5h1M234 270.5h1M180 335.5h1M164 241.5h1M244 237.5h1M245 220.5h1M222 228.5h1M229 224.5h1M255 278.5h1M322 217.5h1M252 270.5h1M311 302.5h1M410 170.5h1M241 263.5h1M261 298.5h1M236 118.5h1M205 220.5h1M271 279.5h1M291 301.5h1M157 323.5h1M281 217.5h1M260 295.5h1M309 267.5h1M277 212.5h1M262 268.5h1M314 278.5h1M264 246.5h1M357 261.5h1M282 316.5h1M249 258.5h1M273 196.5h1M209 236.5h1M203 242.5h1M205 278.5h1M235 238.5h1M205 289.5h1M319 293.5h1M246 218.5h1M223 210.5h1M217 274.5h1M240 236.5h1M286 217.5h1M198 194.5h1M264 323.5h1M244 233.5h1M205 230.5h1M289 241.5h1M255 300.5h1M250 285.5h1M280 250.5h1M252 226.5h1M284 203.5h1M276 313.5h1M245 226.5h1M202 269.5h1M230 191.5h1M298 226.5h1M290 204.5h1M259 234.5h1M202 254.5h1M306 168.5h1M178 179.5h1M206 251.5h1M232 207.5h1" stroke="#fff" stroke-width="1" opacity="0.14" fill="none"/>
<path d="M98.3 75.3 L94.5 79.5 L92.4 81.6 L90.8 84.3 L91.4 90.0 L91.0 95.3 L93.5 97.4 L95.6 101.6 L98.8 107.9 L101.9 110.6 L108.2 111.5 L110.3 108.9 L113.9 109.4 L116.0 107.5 L120.9 106.2 L121.9 101.6 L123.6 98.4 L127.2 96.9 L129.3 91.1 L133.5 89.6 L132.4 84.7 L133.5 80.5 L132.0 75.3 M85.7 84.7 L87.8 84.3 L87.4 86.0 L86.1 86.2Z M58.8 179.1 L69.3 179.1 L71.4 176.3 L73.5 173.2 L76.6 173.8 L81.9 177.4 L87.2 180.9 L89.3 180.9 L98.8 177.8 L109.3 173.2 L119.8 166.8 L127.2 161.6 L127.6 154.2 L129.9 153.8 L130.3 149.6 L132.9 146.8 L131.4 144.1 L127.2 144.7 L124.4 141.6 L127.2 139.5 L129.3 135.3 L134.5 134.2 L153.1 133.2 L153.9 145.8 L161.9 145.8 L161.9 135.7 L166.1 134.2 L167.6 131.5 L169.3 134.2 L173.5 135.7 L178.8 136.2 L182.2 137.9 L185.6 139.3 L190.2 137.4 L196.0 137.4 L200.6 138.5 L203.5 140.2 L204.6 142.5 L207.5 143.4 L211.5 142.5 L213.2 140.2 L215.0 142.0 L218.4 142.0 L221.9 139.7 L224.2 136.8 L226.5 136.6 L228.2 138.2 L231.0 137.9 L233.9 135.6 L235.6 132.8 L238.5 136.2 L241.4 133.9 L244.3 130.5 L240.8 129.3 L237.9 131.0 L239.7 128.7 L244.3 126.2 L247.7 125.5 L250.6 127.0 L253.5 124.7 L256.3 123.0 L253.5 125.9 L255.2 127.6 L258.1 128.2 L260.4 125.9 L260.9 123.0 L259.2 121.8 L262.1 120.7 L263.2 116.7 L267.3 116.3 L271.3 117.0 L271.9 120.7 L274.7 121.3 L276.5 120.1 L277.0 121.8 L278.8 122.4 L279.8 122.7 L281.9 130.4 L282.9 135.3 L282.9 138.8 L278.4 138.8 L277.7 137.1 L274.9 138.1 L277.7 145.8 L284.7 143.7 L284.0 140.9 L286.1 140.6 L289.6 145.1 L293.9 143.0 L292.5 138.1 L294.6 137.1 L296.0 140.9 L305.1 136.0 L302.3 129.0 L295.3 132.5 L287.5 129.0 L293.9 125.5 L287.5 110.0 L298.8 104.4 L307.9 124.1 L312.1 122.4 L313.5 126.2 L307.2 129.0 L309.3 132.5 L319.1 127.6 L314.2 117.8 L314.9 115.2 L319.1 117.1 L318.4 119.9 L324.1 115.6 L322.7 112.1 L321.2 113.5 L312.1 103.0 L317.7 96.7 L331.8 107.9 L337.7 101.6 L335.3 98.8 L331.8 101.6 L320.5 90.4 L322.7 82.6 L330.4 79.1 L336.7 81.2 L351.4 85.2 L352.1 75.6 M344.7 75.1 L345.0 77.7 L348.6 78.4 L349.3 75.6 M247.1 112.6 L248.3 112.1 L250.0 117.2 L249.1 117.5Z" fill="none" stroke="#fff" stroke-width="1.1" stroke-linejoin="round"/>
<rect x="480.25" y="74.50" width="374.45" height="374.50" fill="#fff"/>
<g transform="translate(667.5 261.7)">
<clipPath id="co"><path d="M0.0 0.0 L-25.6 -32.0 L-24.9 -32.6 L-21.3 -28.8 L-20.6 -29.3 L-21.3 -31.3 L-20.6 -31.7 L-18.7 -29.8 L-18.0 -30.2 L-18.5 -32.2 L-17.7 -32.6 L-18.0 -34.4 L-17.2 -34.8 L-16.0 -33.7 L-15.3 -34.1 L-17.4 -40.4 L-16.4 -40.8 L-12.5 -32.5 L-11.8 -32.7 L-12.7 -37.3 L-11.9 -37.6 L-11.8 -39.5 L-10.9 -39.7 L-9.4 -36.5 L-8.6 -36.7 L-7.5 -34.5 L-6.7 -34.7 L-7.7 -43.3 L-6.7 -43.5 L-5.6 -40.8 L-4.7 -41.0 L-3.5 -35.6 L-2.7 -35.7 L-2.6 -42.3 L-1.6 -42.4 L-1.0 -44.0 L0.0 -44.0 L0.6 -36.8 L1.5 -36.8 L2.3 -41.4 L3.2 -41.3 L3.6 -38.7 L4.5 -38.6 L5.1 -38.3 L6.0 -38.2 L7.0 -41.1 L8.0 -40.9 L9.5 -45.0 L10.6 -44.8 L9.9 -39.1 L10.8 -38.9 L9.8 -33.6 L10.6 -33.3 L11.6 -34.5 L12.4 -34.2 L15.2 -40.2 L16.1 -39.9 L14.6 -34.5 L15.4 -34.2 L15.8 -33.7 L16.6 -33.3 L19.7 -38.2 L20.6 -37.7 L17.9 -31.5 L18.6 -31.1Z"/></clipPath>
<path d="M0.0 0.0 L-25.6 -32.0 L-24.9 -32.6 L-21.3 -28.8 L-20.6 -29.3 L-21.3 -31.3 L-20.6 -31.7 L-18.7 -29.8 L-18.0 -30.2 L-18.5 -32.2 L-17.7 -32.6 L-18.0 -34.4 L-17.2 -34.8 L-16.0 -33.7 L-15.3 -34.1 L-17.4 -40.4 L-16.4 -40.8 L-12.5 -32.5 L-11.8 -32.7 L-12.7 -37.3 L-11.9 -37.6 L-11.8 -39.5 L-10.9 -39.7 L-9.4 -36.5 L-8.6 -36.7 L-7.5 -34.5 L-6.7 -34.7 L-7.7 -43.3 L-6.7 -43.5 L-5.6 -40.8 L-4.7 -41.0 L-3.5 -35.6 L-2.7 -35.7 L-2.6 -42.3 L-1.6 -42.4 L-1.0 -44.0 L0.0 -44.0 L0.6 -36.8 L1.5 -36.8 L2.3 -41.4 L3.2 -41.3 L3.6 -38.7 L4.5 -38.6 L5.1 -38.3 L6.0 -38.2 L7.0 -41.1 L8.0 -40.9 L9.5 -45.0 L10.6 -44.8 L9.9 -39.1 L10.8 -38.9 L9.8 -33.6 L10.6 -33.3 L11.6 -34.5 L12.4 -34.2 L15.2 -40.2 L16.1 -39.9 L14.6 -34.5 L15.4 -34.2 L15.8 -33.7 L16.6 -33.3 L19.7 -38.2 L20.6 -37.7 L17.9 -31.5 L18.6 -31.1Z" fill="url(#og)"/>
<g clip-path="url(#co)" filter="url(#bl2)"><path d="M0 0L-40.1 -44.6L-26.3 -53.9Z" fill="#f82800" opacity="0.6"/><path d="M0 0L8.4 -59.4L33.6 -49.7Z" fill="#f82800" opacity="0.55"/><path d="M0 0L-11.2 -27.8L-1.0 -30.0Z" fill="#f8b020" opacity="0.35"/></g>
<line x1="-0.8" y1="-16.0" x2="-1.6" y2="-30.0" stroke="#fff" stroke-width="0.6"/>
<line x1="1.7" y1="-18.9" x2="2.4" y2="-27.9" stroke="#fff" stroke-width="0.6"/>
<line x1="7.0" y1="-23.0" x2="9.6" y2="-31.6" stroke="#fff" stroke-width="0.6"/>
<line x1="-11.2" y1="-27.8" x2="-15.0" y2="-37.1" stroke="#fff" stroke-width="0.6"/>
<line x1="-5.9" y1="-30.4" x2="-7.6" y2="-39.3" stroke="#fff" stroke-width="0.6"/>
<line x1="5.6" y1="-31.5" x2="7.3" y2="-41.4" stroke="#fff" stroke-width="0.6"/>
<path d="M0.0 0.0 L-25.2 14.2 L-25.4 13.8 L-23.4 12.5 L-23.5 12.1 L-24.0 12.1 L-24.1 11.8 L-24.4 11.6 L-24.6 11.3 L-26.5 11.9 L-26.6 11.5 L-23.9 10.1 L-24.1 9.8 L-29.4 11.6 L-29.5 11.2 L-26.2 9.7 L-26.3 9.3 L-27.4 9.4 L-27.5 9.1 L-29.9 9.5 L-30.0 9.1 L-26.5 7.8 L-26.6 7.4 L-32.6 8.8 L-32.7 8.3 L-29.9 7.3 L-30.0 6.9 L-32.4 7.2 L-32.5 6.7 L-31.1 6.2 L-31.2 5.7 L-29.1 5.1 L-29.2 4.7 L-30.7 4.6 L-30.7 4.2 L-32.7 4.2 L-32.8 3.7Z" fill="url(#og2)"/>
<clipPath id="cb"><path d="M0.0 0.0 L17.3 -24.3 L17.8 -24.0 L18.3 -24.0 L18.7 -23.7 L18.4 -22.6 L18.8 -22.3 L20.6 -23.8 L21.0 -23.4 L20.3 -22.1 L20.7 -21.7 L19.4 -19.8 L19.8 -19.4 L25.4 -24.3 L25.9 -23.9 L25.1 -22.6 L25.6 -22.1 L23.0 -19.4 L23.4 -19.0 L25.4 -20.1 L25.8 -19.6 L23.6 -17.5 L23.9 -17.0 L31.9 -22.1 L32.3 -21.5 L29.3 -19.0 L29.7 -18.4 L41.1 -24.8 L41.5 -24.0 L27.8 -15.6 L28.1 -15.1 L34.8 -18.1 L35.1 -17.5 L29.3 -14.1 L29.5 -13.6 L34.3 -15.2 L34.6 -14.6 L35.1 -14.3 L35.3 -13.6 L35.2 -13.1 L35.5 -12.4 L37.8 -12.7 L38.0 -12.0 L39.4 -11.8 L39.6 -11.1 L37.5 -10.0 L37.6 -9.3 L35.7 -8.3 L35.9 -7.7 L34.2 -6.9 L34.3 -6.2 L40.9 -6.9 L41.1 -6.1 L37.3 -5.1 L37.4 -4.4 L36.2 -3.8 L36.3 -3.1 L42.9 -3.1 L42.9 -2.3 L36.2 -1.5 L36.2 -0.8 L34.7 -0.3 L34.7 0.3 L38.9 0.9 L38.8 1.6 L34.9 1.9 L34.8 2.5 L40.0 3.4 L39.9 4.2 L38.8 4.5 L38.7 5.3 L34.9 5.2 L34.8 5.8 L35.7 6.5 L35.6 7.1 L40.1 8.6 L39.9 9.3 L33.4 8.2 L33.2 8.9 L33.1 9.3 L32.9 9.9 L33.8 10.6 L33.6 11.3 L31.1 10.9 L30.8 11.4 L30.7 11.8 L30.4 12.4 L33.2 14.0 L32.9 14.6 L32.4 14.9 L32.1 15.5 L31.9 15.9 L31.5 16.5 L31.9 17.1 L31.6 17.7 L26.6 15.4 L26.3 15.9 L27.7 17.2 L27.4 17.7 L24.6 16.4 L24.3 16.8 L30.6 21.8 L30.2 22.4 L25.2 19.2 L24.8 19.6 L25.9 21.0 L25.5 21.5 L29.1 25.2 L28.6 25.7 L21.3 19.6 L20.9 20.0 L24.1 23.7 L23.7 24.1 L24.5 25.6 L24.1 26.1 L23.5 26.1 L23.0 26.6 L17.8 21.1 L17.4 21.5 L17.6 22.2 L17.2 22.6 L17.9 24.2 L17.5 24.5 L17.8 25.6 L17.3 26.0 L14.5 22.4 L14.1 22.7 L16.5 27.4 L16.0 27.7 L16.0 28.4 L15.4 28.7 L12.7 24.3 L12.2 24.6 L14.0 29.1 L13.5 29.4 L10.7 24.1 L10.2 24.3 L9.6 23.7 L9.2 23.9 L10.8 29.1 L10.2 29.3 L9.9 29.4 L9.3 29.6 L8.0 26.7 L7.5 26.8 L8.3 31.1 L7.7 31.2 L6.0 25.9 L5.5 26.0 L6.3 31.4 L5.7 31.6 L5.1 30.1 L4.5 30.2 L3.6 26.7 L3.1 26.8 L3.1 29.3 L2.5 29.4 L2.2 29.7 L1.6 29.7 L1.3 31.5 L0.7 31.6 L0.3 30.5 L-0.3 30.5 L-0.6 27.5 L-1.1 27.5 L-1.6 30.5 L-2.2 30.5 L-2.5 29.2 L-3.0 29.2 L-3.5 30.3 L-4.1 30.2 L-3.3 22.2 L-3.7 22.1 L-4.0 22.0 L-4.4 22.0 L-5.9 27.4 L-6.4 27.3 L-6.1 24.9 L-6.6 24.7 L-6.1 21.9 L-6.5 21.8 L-6.9 21.9 L-7.3 21.8 L-7.6 21.7 L-8.0 21.6 L-9.3 24.2 L-9.8 24.1Z"/></clipPath>
<path d="M0.0 0.0 L17.3 -24.3 L17.8 -24.0 L18.3 -24.0 L18.7 -23.7 L18.4 -22.6 L18.8 -22.3 L20.6 -23.8 L21.0 -23.4 L20.3 -22.1 L20.7 -21.7 L19.4 -19.8 L19.8 -19.4 L25.4 -24.3 L25.9 -23.9 L25.1 -22.6 L25.6 -22.1 L23.0 -19.4 L23.4 -19.0 L25.4 -20.1 L25.8 -19.6 L23.6 -17.5 L23.9 -17.0 L31.9 -22.1 L32.3 -21.5 L29.3 -19.0 L29.7 -18.4 L41.1 -24.8 L41.5 -24.0 L27.8 -15.6 L28.1 -15.1 L34.8 -18.1 L35.1 -17.5 L29.3 -14.1 L29.5 -13.6 L34.3 -15.2 L34.6 -14.6 L35.1 -14.3 L35.3 -13.6 L35.2 -13.1 L35.5 -12.4 L37.8 -12.7 L38.0 -12.0 L39.4 -11.8 L39.6 -11.1 L37.5 -10.0 L37.6 -9.3 L35.7 -8.3 L35.9 -7.7 L34.2 -6.9 L34.3 -6.2 L40.9 -6.9 L41.1 -6.1 L37.3 -5.1 L37.4 -4.4 L36.2 -3.8 L36.3 -3.1 L42.9 -3.1 L42.9 -2.3 L36.2 -1.5 L36.2 -0.8 L34.7 -0.3 L34.7 0.3 L38.9 0.9 L38.8 1.6 L34.9 1.9 L34.8 2.5 L40.0 3.4 L39.9 4.2 L38.8 4.5 L38.7 5.3 L34.9 5.2 L34.8 5.8 L35.7 6.5 L35.6 7.1 L40.1 8.6 L39.9 9.3 L33.4 8.2 L33.2 8.9 L33.1 9.3 L32.9 9.9 L33.8 10.6 L33.6 11.3 L31.1 10.9 L30.8 11.4 L30.7 11.8 L30.4 12.4 L33.2 14.0 L32.9 14.6 L32.4 14.9 L32.1 15.5 L31.9 15.9 L31.5 16.5 L31.9 17.1 L31.6 17.7 L26.6 15.4 L26.3 15.9 L27.7 17.2 L27.4 17.7 L24.6 16.4 L24.3 16.8 L30.6 21.8 L30.2 22.4 L25.2 19.2 L24.8 19.6 L25.9 21.0 L25.5 21.5 L29.1 25.2 L28.6 25.7 L21.3 19.6 L20.9 20.0 L24.1 23.7 L23.7 24.1 L24.5 25.6 L24.1 26.1 L23.5 26.1 L23.0 26.6 L17.8 21.1 L17.4 21.5 L17.6 22.2 L17.2 22.6 L17.9 24.2 L17.5 24.5 L17.8 25.6 L17.3 26.0 L14.5 22.4 L14.1 22.7 L16.5 27.4 L16.0 27.7 L16.0 28.4 L15.4 28.7 L12.7 24.3 L12.2 24.6 L14.0 29.1 L13.5 29.4 L10.7 24.1 L10.2 24.3 L9.6 23.7 L9.2 23.9 L10.8 29.1 L10.2 29.3 L9.9 29.4 L9.3 29.6 L8.0 26.7 L7.5 26.8 L8.3 31.1 L7.7 31.2 L6.0 25.9 L5.5 26.0 L6.3 31.4 L5.7 31.6 L5.1 30.1 L4.5 30.2 L3.6 26.7 L3.1 26.8 L3.1 29.3 L2.5 29.4 L2.2 29.7 L1.6 29.7 L1.3 31.5 L0.7 31.6 L0.3 30.5 L-0.3 30.5 L-0.6 27.5 L-1.1 27.5 L-1.6 30.5 L-2.2 30.5 L-2.5 29.2 L-3.0 29.2 L-3.5 30.3 L-4.1 30.2 L-3.3 22.2 L-3.7 22.1 L-4.0 22.0 L-4.4 22.0 L-5.9 27.4 L-6.4 27.3 L-6.1 24.9 L-6.6 24.7 L-6.1 21.9 L-6.5 21.8 L-6.9 21.9 L-7.3 21.8 L-7.6 21.7 L-8.0 21.6 L-9.3 24.2 L-9.8 24.1Z" fill="url(#bg)"/>
<g clip-path="url(#cb)" filter="url(#bl2)"><path d="M0 0L30.0 52.0L-26.3 53.9Z" fill="#000070" opacity="0.6"/><path d="M0 0L33.6 -49.7L50.9 -31.8Z" fill="#000070" opacity="0.45"/></g>
<rect x="-7.4" y="-3.1" width="1" height="1" fill="#f83000"/>
<rect x="-10.1" y="-4.3" width="1" height="1" fill="#f83000"/>
<rect x="-12.9" y="-5.5" width="1" height="1" fill="#f83000"/>
<rect x="-15.6" y="-6.6" width="1" height="1" fill="#f83000"/>
<rect x="-18.4" y="-7.8" width="1" height="1" fill="#f83000"/>
<rect x="-21.2" y="-9.0" width="1" height="1" fill="#f83000"/>
<rect x="-23.9" y="-10.2" width="1" height="1" fill="#f83000"/>
<rect x="-26.7" y="-11.3" width="1" height="1" fill="#f83000"/>
<rect x="-29.5" y="-12.5" width="1" height="1" fill="#f83000"/>
<rect x="-32.2" y="-13.7" width="1" height="1" fill="#f83000"/>
<circle r="5.3" fill="#fff"/>
</g>
<path d="M505.4 276.7 L509.8 275.8 L511.6 279.3 L510.2 286.3 L510.7 295.1 L512.5 303.9 L516.0 306.5 L515.1 308.8 L511.6 308.2 L508.1 303.0 L506.3 297.7 L504.6 293.3 L503.7 288.1 L505.4 282.8Z" fill="#f00000" />
<path d="M527.4 305.3 L531.8 304.2 L535.3 308.2 L537.0 312.6 L534.4 315.3 L530.9 316.1 L531.8 310.9 L529.1 307.0Z" fill="#f00000" />
<path d="M508.9 327.2 L513.3 326.3 L517.7 329.3 L521.2 331.9 L523.0 337.2 L525.6 338.1 L522.1 341.1 L518.9 338.9 L516.0 333.7 L512.5 330.2Z" fill="#f00000" />
<path d="M528.2 337.2 L532.6 337.2 L536.1 342.5 L538.8 346.8 L534.4 346.8 L530.9 343.3 L529.1 339.8Z" fill="#f00000" />
<path d="M505.4 277.5 L507.7 277.5 L507.7 283.7 L505.4 283.7Z" fill="#000060" />
<path d="M503.2 288.1 L505.4 290.7 L506.3 296.0 L508.9 299.5 L508.1 303.0 L506.3 302.1 L504.6 295.1Z" fill="#000060" />
<path d="M506.3 302.1 L508.1 301.8 L513.3 309.1 L511.9 309.8Z" fill="#000060" />
<path d="M529.1 306.0 L532.6 310.0 L533.5 315.3 L530.9 314.4 L531.2 310.9Z" fill="#000060" />
<path d="M506.3 327.7 L508.4 328.1 L508.2 328.8 L506.3 328.6Z" fill="#000060" />
<path d="M512.5 329.3 L516.8 331.9 L519.5 337.2 L522.1 341.6 L520.4 340.4 L516.8 335.8 L514.7 332.3Z" fill="#000060" />
<path d="M517.7 330.2 L520.4 331.1 L521.2 335.4 L518.9 334.6Z" fill="#000060" />
<path d="M530.0 338.9 L532.6 342.5 L535.3 346.8 L532.6 346.0 L530.0 342.5Z" fill="#000060" />
<path d="M522.1 321.4 L530.9 317.0" stroke="#f00000" stroke-width="0.9" fill="none" stroke-dasharray="2 1.5"/>
<path d="M663.5 268.7 L661.6 275.4 L660.8 280.3 L665.1 284.7 L668.9 288.5 L671.8 294.7 L673.2 297.6" stroke="#f00000" stroke-width="2.6" fill="none" stroke-linejoin="round" stroke-linecap="round"/>
<path d="M658.7 282.8 L663.5 287.4 L668.4 292.8 L670.5 295.5" stroke="#000060" stroke-width="2.4" fill="none" stroke-linejoin="round" stroke-linecap="round"/>
<path d="M675.7 301.5 L678.6 307.3 L681.5 311.7" stroke="#f00000" stroke-width="2.2" fill="none" stroke-linejoin="round" stroke-linecap="round"/>
<path d="M681.9 304.4 L682.6 310.1 L683.0 315.0" stroke="#000060" stroke-width="2.2" fill="none" stroke-linejoin="round" stroke-linecap="round"/>
<path d="M677.8 307.4 L680.5 311.3 L682.4 314.4" stroke="#000060" stroke-width="1.4" fill="none" stroke-linejoin="round" stroke-linecap="round"/>
<path d="M686.3 312.1 L688.6 317.5 L690.5 322.1" stroke="#f00000" stroke-width="2.6" fill="none" stroke-linejoin="round" stroke-linecap="round"/>
<path d="M688.6 316.3 L690.5 321.3 L691.5 324.8" stroke="#000060" stroke-width="2.2" fill="none" stroke-linejoin="round" stroke-linecap="round"/>
<path d="M708.1 337.9 L711.3 337.1 L715.0 338.3 L715.8 340.7 L713.4 339.9 L710.9 340.7 L709.7 343.6 L708.9 348.4 L708.8 353.3 L708.9 358.1 L707.3 357.3 L706.9 352.5 L707.7 349.2 L706.1 346.8 L707.7 344.4 L708.1 341.1Z" fill="#f00000" />
<path d="M720.2 346.8 L721.8 346.2 L722.6 348.4 L725.1 348.8 L726.3 350.8 L724.3 352.5 L722.6 350.8 L721.0 348.8Z" fill="#f00000" />
<path d="M728.3 353.3 L730.7 351.6 L731.9 349.2 L732.3 346.8 L733.9 346.2 L737.2 346.4 L738.0 348.4 L735.6 348.8 L734.8 352.5 L733.9 357.3 L731.9 357.3 L729.9 355.7Z" fill="#f00000" />
<path d="M738.8 347.6 L741.2 345.2 L743.6 343.2 L745.2 344.0 L746.9 346.4 L749.7 345.6 L750.1 348.0 L747.7 348.0 L745.2 346.0 L742.8 348.4 L741.2 349.6 L739.2 349.6Z" fill="#f00000" />
<path d="M702.3 326.2 L704.7 326.6 L704.1 328.6 L702.6 328.6Z" fill="#f00000" />
<path d="M696.4 332.7 L698.4 332.3 L698.8 334.3 L696.0 334.7Z" fill="#f00000" />
<path d="M710.9 340.7 L713.4 339.9 L715.8 341.1 L717.8 343.6 L716.6 343.4 L714.6 341.6 L712.1 342.4 L711.3 346.0 L710.9 350.4 L708.9 350.4 L709.3 346.0 L709.9 343.2Z" fill="#000060" />
<path d="M708.9 354.5 L710.5 356.1 L709.3 356.9 L710.1 358.5 L710.9 361.3 L709.3 361.7 L708.1 358.9 L708.9 358.1Z" fill="#000060" />
<path d="M724.3 352.5 L726.3 351.0 L727.9 352.9 L726.3 354.5 L724.3 354.1Z" fill="#000060" />
<path d="M734.8 349.2 L738.0 348.4 L739.6 350.0 L737.2 351.6 L736.0 352.5 L735.7 358.5 L733.9 358.5 L734.1 355.7 L735.2 352.5Z" fill="#000060" />
<path d="M730.3 356.1 L731.9 357.3 L731.1 357.7 L729.9 356.9Z" fill="#000060" />
<path d="M741.2 349.6 L742.8 348.4 L745.2 346.2 L747.7 348.3 L746.1 350.0 L744.4 351.6 L742.8 351.2 L741.6 350.8Z" fill="#000060" />
<path d="M750.1 346.2 L751.7 347.2 L751.5 348.8 L750.3 348.4Z" fill="#000060" />
<path d="M703.1 328.9 L703.9 328.9 L703.9 330.8 L703.1 330.8Z" fill="#000060" />
<path d="M698.0 333.7 L699.1 333.7 L699.1 334.8 L698.0 334.8Z" fill="#000060" />
<ellipse cx="632.5" cy="311.2" rx="2.2" ry="0.7" fill="#f00000" transform="rotate(-55 632.5 311.2)"/>
<rect x="689" y="208.3" width="1.2" height="1.4" fill="#f86000"/><rect x="656" y="210" width="1" height="3" fill="#f86000"/>
<path d="M519.6 75.3 L515.8 79.5 L513.7 81.6 L512.0 84.3 L512.6 90.0 L512.2 95.3 L514.7 97.4 L516.8 101.6 L520.0 107.9 L523.2 110.6 L529.5 111.5 L531.6 108.9 L535.2 109.4 L537.3 107.5 L542.1 106.2 L543.2 101.6 L544.8 98.4 L548.4 96.9 L550.5 91.1 L554.7 89.6 L553.7 84.7 L554.7 80.5 L553.3 75.3 M506.9 84.7 L509.1 84.3 L508.6 86.0 L507.4 86.2Z M480.0 179.1 L490.5 179.1 L492.6 176.3 L494.7 173.2 L497.9 173.8 L503.2 177.4 L508.4 180.9 L510.5 180.9 L520.0 177.8 L530.5 173.2 L541.1 166.8 L548.4 161.6 L548.8 154.2 L551.2 153.8 L551.6 149.6 L554.1 146.8 L552.6 144.1 L548.4 144.7 L545.7 141.6 L548.4 139.5 L550.5 135.3 L555.8 134.2 L574.3 133.2 L575.2 145.8 L583.2 145.8 L583.2 135.7 L587.4 134.2 L588.8 131.5 L590.5 134.2 L594.7 135.7 L600.0 136.2 L603.4 137.9 L606.9 139.3 L611.5 137.4 L617.2 137.4 L621.8 138.5 L624.7 140.2 L625.9 142.5 L628.7 143.4 L632.8 142.5 L634.5 140.2 L636.2 142.0 L639.7 142.0 L643.1 139.7 L645.4 136.8 L647.7 136.6 L649.4 138.2 L652.3 137.9 L655.2 135.6 L656.9 132.8 L659.8 136.2 L662.6 133.9 L665.5 130.5 L662.1 129.3 L659.2 131.0 L660.9 128.7 L665.5 126.2 L669.0 125.5 L671.8 127.0 L674.7 124.7 L677.6 123.0 L674.7 125.9 L676.4 127.6 L679.3 128.2 L681.6 125.9 L682.2 123.0 L680.5 121.8 L683.3 120.7 L684.5 116.7 L688.5 116.3 L692.5 117.0 L693.1 120.7 L696.0 121.3 L697.7 120.1 L698.3 121.8 L700.0 122.4 L701.1 122.7 L703.2 130.4 L704.2 135.3 L704.2 138.8 L699.7 138.8 L699.0 137.1 L696.2 138.1 L699.0 145.8 L706.0 143.7 L705.3 140.9 L707.4 140.6 L710.9 145.1 L715.1 143.0 L713.7 138.1 L715.8 137.1 L717.2 140.9 L726.3 136.0 L723.5 129.0 L716.5 132.5 L708.8 129.0 L715.1 125.5 L708.8 110.0 L720.0 104.4 L729.2 124.1 L733.4 122.4 L734.8 126.2 L728.5 129.0 L730.6 132.5 L740.4 127.6 L735.5 117.8 L736.2 115.2 L740.4 117.1 L739.7 119.9 L745.3 115.6 L743.9 112.1 L742.5 113.5 L733.4 103.0 L739.0 96.7 L753.0 107.9 L758.9 101.6 L756.5 98.8 L753.0 101.6 L741.8 90.4 L743.9 82.6 L751.6 79.1 L757.9 81.2 L772.7 85.2 L773.4 75.6 M766.0 75.1 L766.2 77.7 L769.9 78.4 L770.6 75.6 M668.4 112.6 L669.5 112.1 L671.3 117.2 L670.3 117.5Z" fill="none" stroke="#000" stroke-width="1.1" stroke-linejoin="round"/>
<rect x="59.00" y="74.50" width="374.45" height="374.50" fill="none" stroke="#000" stroke-width="2"/><path d="M59.00 74.50V60.00M59.00 449.00V463.50M59.00 74.50H44.30M433.45 74.50H448.15M152.61 74.50V60.00M152.61 449.00V463.50M59.00 168.11H44.30M433.45 168.11H448.15M246.22 74.50V60.00M246.22 449.00V463.50M59.00 261.73H44.30M433.45 261.73H448.15M339.84 74.50V60.00M339.84 449.00V463.50M59.00 355.34H44.30M433.45 355.34H448.15M433.45 74.50V60.00M433.45 449.00V463.50M59.00 448.95H44.30M433.45 448.95H448.15" stroke="#000" stroke-width="2" fill="none"/><path d="M70.70 74.50V67.20M70.70 449.00V456.30M59.00 86.20H51.70M433.45 86.20H440.75M82.40 74.50V67.20M82.40 449.00V456.30M59.00 97.90H51.70M433.45 97.90H440.75M94.10 74.50V67.20M94.10 449.00V456.30M59.00 109.60H51.70M433.45 109.60H440.75M105.81 74.50V67.20M105.81 449.00V456.30M59.00 121.31H51.70M433.45 121.31H440.75M117.51 74.50V67.20M117.51 449.00V456.30M59.00 133.01H51.70M433.45 133.01H440.75M129.21 74.50V67.20M129.21 449.00V456.30M59.00 144.71H51.70M433.45 144.71H440.75M140.91 74.50V67.20M140.91 449.00V456.30M59.00 156.41H51.70M433.45 156.41H440.75M164.31 74.50V67.20M164.31 449.00V456.30M59.00 179.81H51.70M433.45 179.81H440.75M176.02 74.50V67.20M176.02 449.00V456.30M59.00 191.52H51.70M433.45 191.52H440.75M187.72 74.50V67.20M187.72 449.00V456.30M59.00 203.22H51.70M433.45 203.22H440.75M199.42 74.50V67.20M199.42 449.00V456.30M59.00 214.92H51.70M433.45 214.92H440.75M211.12 74.50V67.20M211.12 449.00V456.30M59.00 226.62H51.70M433.45 226.62H440.75M222.82 74.50V67.20M222.82 449.00V456.30M59.00 238.32H51.70M433.45 238.32H440.75M234.52 74.50V67.20M234.52 449.00V456.30M59.00 250.02H51.70M433.45 250.02H440.75M257.93 74.50V67.20M257.93 449.00V456.30M59.00 273.43H51.70M433.45 273.43H440.75M269.63 74.50V67.20M269.63 449.00V456.30M59.00 285.13H51.70M433.45 285.13H440.75M281.33 74.50V67.20M281.33 449.00V456.30M59.00 296.83H51.70M433.45 296.83H440.75M293.03 74.50V67.20M293.03 449.00V456.30M59.00 308.53H51.70M433.45 308.53H440.75M304.73 74.50V67.20M304.73 449.00V456.30M59.00 320.23H51.70M433.45 320.23H440.75M316.43 74.50V67.20M316.43 449.00V456.30M59.00 331.93H51.70M433.45 331.93H440.75M328.14 74.50V67.20M328.14 449.00V456.30M59.00 343.64H51.70M433.45 343.64H440.75M351.54 74.50V67.20M351.54 449.00V456.30M59.00 367.04H51.70M433.45 367.04H440.75M363.24 74.50V67.20M363.24 449.00V456.30M59.00 378.74H51.70M433.45 378.74H440.75M374.94 74.50V67.20M374.94 449.00V456.30M59.00 390.44H51.70M433.45 390.44H440.75M386.64 74.50V67.20M386.64 449.00V456.30M59.00 402.14H51.70M433.45 402.14H440.75M398.35 74.50V67.20M398.35 449.00V456.30M59.00 413.85H51.70M433.45 413.85H440.75M410.05 74.50V67.20M410.05 449.00V456.30M59.00 425.55H51.70M433.45 425.55H440.75M421.75 74.50V67.20M421.75 449.00V456.30M59.00 437.25H51.70M433.45 437.25H440.75" stroke="#000" stroke-width="1.1" fill="none"/>
<rect x="480.25" y="74.50" width="374.45" height="374.50" fill="none" stroke="#000" stroke-width="2"/><path d="M480.25 74.50V60.00M480.25 449.00V463.50M480.25 74.50H465.55M854.70 74.50H869.40M573.86 74.50V60.00M573.86 449.00V463.50M480.25 168.11H465.55M854.70 168.11H869.40M667.48 74.50V60.00M667.48 449.00V463.50M480.25 261.73H465.55M854.70 261.73H869.40M761.09 74.50V60.00M761.09 449.00V463.50M480.25 355.34H465.55M854.70 355.34H869.40M854.70 74.50V60.00M854.70 449.00V463.50M480.25 448.95H465.55M854.70 448.95H869.40" stroke="#000" stroke-width="2" fill="none"/><path d="M491.95 74.50V67.20M491.95 449.00V456.30M480.25 86.20H472.95M854.70 86.20H862.00M503.65 74.50V67.20M503.65 449.00V456.30M480.25 97.90H472.95M854.70 97.90H862.00M515.35 74.50V67.20M515.35 449.00V456.30M480.25 109.60H472.95M854.70 109.60H862.00M527.06 74.50V67.20M527.06 449.00V456.30M480.25 121.31H472.95M854.70 121.31H862.00M538.76 74.50V67.20M538.76 449.00V456.30M480.25 133.01H472.95M854.70 133.01H862.00M550.46 74.50V67.20M550.46 449.00V456.30M480.25 144.71H472.95M854.70 144.71H862.00M562.16 74.50V67.20M562.16 449.00V456.30M480.25 156.41H472.95M854.70 156.41H862.00M585.56 74.50V67.20M585.56 449.00V456.30M480.25 179.81H472.95M854.70 179.81H862.00M597.27 74.50V67.20M597.27 449.00V456.30M480.25 191.52H472.95M854.70 191.52H862.00M608.97 74.50V67.20M608.97 449.00V456.30M480.25 203.22H472.95M854.70 203.22H862.00M620.67 74.50V67.20M620.67 449.00V456.30M480.25 214.92H472.95M854.70 214.92H862.00M632.37 74.50V67.20M632.37 449.00V456.30M480.25 226.62H472.95M854.70 226.62H862.00M644.07 74.50V67.20M644.07 449.00V456.30M480.25 238.32H472.95M854.70 238.32H862.00M655.77 74.50V67.20M655.77 449.00V456.30M480.25 250.02H472.95M854.70 250.02H862.00M679.18 74.50V67.20M679.18 449.00V456.30M480.25 273.43H472.95M854.70 273.43H862.00M690.88 74.50V67.20M690.88 449.00V456.30M480.25 285.13H472.95M854.70 285.13H862.00M702.58 74.50V67.20M702.58 449.00V456.30M480.25 296.83H472.95M854.70 296.83H862.00M714.28 74.50V67.20M714.28 449.00V456.30M480.25 308.53H472.95M854.70 308.53H862.00M725.98 74.50V67.20M725.98 449.00V456.30M480.25 320.23H472.95M854.70 320.23H862.00M737.68 74.50V67.20M737.68 449.00V456.30M480.25 331.93H472.95M854.70 331.93H862.00M749.39 74.50V67.20M749.39 449.00V456.30M480.25 343.64H472.95M854.70 343.64H862.00M772.79 74.50V67.20M772.79 449.00V456.30M480.25 367.04H472.95M854.70 367.04H862.00M784.49 74.50V67.20M784.49 449.00V456.30M480.25 378.74H472.95M854.70 378.74H862.00M796.19 74.50V67.20M796.19 449.00V456.30M480.25 390.44H472.95M854.70 390.44H862.00M807.89 74.50V67.20M807.89 449.00V456.30M480.25 402.14H472.95M854.70 402.14H862.00M819.60 74.50V67.20M819.60 449.00V456.30M480.25 413.85H472.95M854.70 413.85H862.00M831.30 74.50V67.20M831.30 449.00V456.30M480.25 425.55H472.95M854.70 425.55H862.00M843.00 74.50V67.20M843.00 449.00V456.30M480.25 437.25H472.95M854.70 437.25H862.00" stroke="#000" stroke-width="1.1" fill="none"/>
<rect x="59.00" y="509.30" width="9.40" height="9.90" fill="rgb(0,0,0)"/><rect x="68.10" y="509.30" width="9.40" height="9.90" fill="rgb(0,0,0)"/><rect x="77.20" y="509.30" width="9.40" height="9.90" fill="rgb(0,0,0)"/><rect x="86.30" y="509.30" width="9.40" height="9.90" fill="rgb(0,0,0)"/><rect x="95.40" y="509.30" width="9.40" height="9.90" fill="rgb(0,0,0)"/><rect x="104.50" y="509.30" width="9.40" height="9.90" fill="rgb(0,0,0)"/><rect x="113.60" y="509.30" width="9.40" height="9.90" fill="rgb(0,0,0)"/><rect x="122.70" y="509.30" width="9.40" height="9.90" fill="rgb(0,0,0)"/><rect x="131.80" y="509.30" width="9.40" height="9.90" fill="rgb(0,0,0)"/><rect x="140.90" y="509.30" width="9.40" height="9.90" fill="rgb(0,0,0)"/><rect x="150.00" y="509.30" width="9.40" height="9.90" fill="rgb(8,8,8)"/><rect x="159.10" y="509.30" width="9.40" height="9.90" fill="rgb(18,18,18)"/><rect x="168.20" y="509.30" width="9.40" height="9.90" fill="rgb(27,27,27)"/><rect x="177.30" y="509.30" width="9.40" height="9.90" fill="rgb(37,37,37)"/><rect x="186.40" y="509.30" width="9.40" height="9.90" fill="rgb(46,46,46)"/><rect x="195.50" y="509.30" width="9.40" height="9.90" fill="rgb(56,56,56)"/><rect x="204.60" y="509.30" width="9.40" height="9.90" fill="rgb(66,66,66)"/><rect x="213.70" y="509.30" width="9.40" height="9.90" fill="rgb(75,75,75)"/><rect x="222.80" y="509.30" width="9.40" height="9.90" fill="rgb(85,85,85)"/><rect x="231.90" y="509.30" width="9.40" height="9.90" fill="rgb(94,94,94)"/><rect x="241.00" y="509.30" width="9.40" height="9.90" fill="rgb(104,104,104)"/><rect x="250.10" y="509.30" width="9.40" height="9.90" fill="rgb(114,114,114)"/><rect x="259.20" y="509.30" width="9.40" height="9.90" fill="rgb(123,123,123)"/><rect x="268.30" y="509.30" width="9.40" height="9.90" fill="rgb(133,133,133)"/><rect x="277.40" y="509.30" width="9.40" height="9.90" fill="rgb(142,142,142)"/><rect x="286.50" y="509.30" width="9.40" height="9.90" fill="rgb(152,152,152)"/><rect x="295.60" y="509.30" width="9.40" height="9.90" fill="rgb(162,162,162)"/><rect x="304.70" y="509.30" width="9.40" height="9.90" fill="rgb(171,171,171)"/><rect x="313.80" y="509.30" width="9.40" height="9.90" fill="rgb(181,181,181)"/><rect x="322.90" y="509.30" width="9.40" height="9.90" fill="rgb(190,190,190)"/><rect x="332.00" y="509.30" width="9.40" height="9.90" fill="rgb(200,200,200)"/><rect x="341.10" y="509.30" width="9.40" height="9.90" fill="rgb(210,210,210)"/><rect x="350.20" y="509.30" width="9.40" height="9.90" fill="rgb(219,219,219)"/><rect x="359.30" y="509.30" width="9.40" height="9.90" fill="rgb(229,229,229)"/><rect x="368.40" y="509.30" width="9.40" height="9.90" fill="rgb(238,238,238)"/><rect x="377.50" y="509.30" width="9.40" height="9.90" fill="rgb(248,248,248)"/>
<path d="M386.60 509.30L395.00 514.25L386.60 519.20Z" fill="#ffff00"/>
<path d="M59.00 509.30H386.60L395.00 514.25L386.60 519.20H59.00Z" fill="none" stroke="#000" stroke-width="2" stroke-linejoin="miter"/>
<path d="M67.15 519.20L69.05 519.20L68.50 526.4L67.70 526.4ZM76.25 519.20L78.15 519.20L77.60 526.4L76.80 526.4ZM85.35 519.20L87.25 519.20L86.70 526.4L85.90 526.4ZM94.45 519.20L96.35 519.20L95.80 526.4L95.00 526.4ZM112.65 519.20L114.55 519.20L114.00 526.4L113.20 526.4ZM121.75 519.20L123.65 519.20L123.10 526.4L122.30 526.4ZM130.85 519.20L132.75 519.20L132.20 526.4L131.40 526.4ZM139.95 519.20L141.85 519.20L141.30 526.4L140.50 526.4ZM158.15 519.20L160.05 519.20L159.50 526.4L158.70 526.4ZM167.25 519.20L169.15 519.20L168.60 526.4L167.80 526.4ZM176.35 519.20L178.25 519.20L177.70 526.4L176.90 526.4ZM185.45 519.20L187.35 519.20L186.80 526.4L186.00 526.4ZM203.65 519.20L205.55 519.20L205.00 526.4L204.20 526.4ZM212.75 519.20L214.65 519.20L214.10 526.4L213.30 526.4ZM221.85 519.20L223.75 519.20L223.20 526.4L222.40 526.4ZM230.95 519.20L232.85 519.20L232.30 526.4L231.50 526.4ZM249.15 519.20L251.05 519.20L250.50 526.4L249.70 526.4ZM258.25 519.20L260.15 519.20L259.60 526.4L258.80 526.4ZM267.35 519.20L269.25 519.20L268.70 526.4L267.90 526.4ZM276.45 519.20L278.35 519.20L277.80 526.4L277.00 526.4ZM294.65 519.20L296.55 519.20L296.00 526.4L295.20 526.4ZM303.75 519.20L305.65 519.20L305.10 526.4L304.30 526.4ZM312.85 519.20L314.75 519.20L314.20 526.4L313.40 526.4ZM321.95 519.20L323.85 519.20L323.30 526.4L322.50 526.4ZM340.15 519.20L342.05 519.20L341.50 526.4L340.70 526.4ZM349.25 519.20L351.15 519.20L350.60 526.4L349.80 526.4ZM358.35 519.20L360.25 519.20L359.70 526.4L358.90 526.4ZM367.45 519.20L369.35 519.20L368.80 526.4L368.00 526.4ZM385.65 519.20L387.55 519.20L387.00 526.4L386.20 526.4Z" fill="#000"/>
<path d="M59.00 509.30V533.70M68.10 509.30V519.20M77.20 509.30V519.20M86.30 509.30V519.20M95.40 509.30V519.20M104.50 509.30V533.70M104.50 509.30V519.20M113.60 509.30V519.20M122.70 509.30V519.20M131.80 509.30V519.20M140.90 509.30V519.20M150.00 509.30V533.70M150.00 509.30V519.20M159.10 509.30V519.20M168.20 509.30V519.20M177.30 509.30V519.20M186.40 509.30V519.20M195.50 509.30V533.70M195.50 509.30V519.20M204.60 509.30V519.20M213.70 509.30V519.20M222.80 509.30V519.20M231.90 509.30V519.20M241.00 509.30V533.70M241.00 509.30V519.20M250.10 509.30V519.20M259.20 509.30V519.20M268.30 509.30V519.20M277.40 509.30V519.20M286.50 509.30V533.70M286.50 509.30V519.20M295.60 509.30V519.20M304.70 509.30V519.20M313.80 509.30V519.20M322.90 509.30V519.20M332.00 509.30V533.70M332.00 509.30V519.20M341.10 509.30V519.20M350.20 509.30V519.20M359.30 509.30V519.20M368.40 509.30V519.20M377.50 509.30V533.70M377.50 509.30V519.20" stroke="#000" stroke-width="1.9" fill="none"/>
<rect x="480.21" y="509.30" width="8.91" height="9.90" fill="#cfffff"/><rect x="488.82" y="509.30" width="8.91" height="9.90" fill="#b0ffff"/><rect x="497.43" y="509.30" width="8.91" height="9.90" fill="#98ffff"/><rect x="506.04" y="509.30" width="8.91" height="9.90" fill="#80ffff"/><rect x="514.65" y="509.30" width="8.91" height="9.90" fill="#70f8f8"/><rect x="523.26" y="509.30" width="8.91" height="9.90" fill="#50e8f8"/><rect x="531.87" y="509.30" width="8.91" height="9.90" fill="#38c8f8"/><rect x="540.48" y="509.30" width="8.91" height="9.90" fill="#28b0f8"/><rect x="549.09" y="509.30" width="8.91" height="9.90" fill="#1898f0"/><rect x="557.70" y="509.30" width="8.91" height="9.90" fill="#1080f0"/><rect x="566.31" y="509.30" width="8.91" height="9.90" fill="#0c60f0"/><rect x="574.92" y="509.30" width="8.91" height="9.90" fill="#0840f0"/><rect x="583.53" y="509.30" width="8.91" height="9.90" fill="#0420f8"/><rect x="592.14" y="509.30" width="8.91" height="9.90" fill="#0008f0"/><rect x="600.75" y="509.30" width="8.91" height="9.90" fill="#0000d0"/><rect x="609.36" y="509.30" width="8.91" height="9.90" fill="#0000b0"/><rect x="617.97" y="509.30" width="8.91" height="9.90" fill="#000098"/><rect x="626.58" y="509.30" width="8.91" height="9.90" fill="#000080"/><rect x="635.19" y="509.30" width="8.91" height="9.90" fill="#000060"/><rect x="643.80" y="509.30" width="8.91" height="9.90" fill="#f00000"/><rect x="652.41" y="509.30" width="8.91" height="9.90" fill="#f81800"/><rect x="661.02" y="509.30" width="8.91" height="9.90" fill="#f83000"/><rect x="669.63" y="509.30" width="8.91" height="9.90" fill="#f84800"/><rect x="678.24" y="509.30" width="8.91" height="9.90" fill="#f86008"/><rect x="686.85" y="509.30" width="8.91" height="9.90" fill="#f87808"/><rect x="695.46" y="509.30" width="8.91" height="9.90" fill="#f88808"/><rect x="704.07" y="509.30" width="8.91" height="9.90" fill="#f8a010"/><rect x="712.68" y="509.30" width="8.91" height="9.90" fill="#f8b820"/><rect x="721.29" y="509.30" width="8.91" height="9.90" fill="#f8c830"/><rect x="729.90" y="509.30" width="8.91" height="9.90" fill="#f8d838"/><rect x="738.51" y="509.30" width="8.91" height="9.90" fill="#f8f040"/><rect x="747.12" y="509.30" width="8.91" height="9.90" fill="#f8f860"/><rect x="755.73" y="509.30" width="8.91" height="9.90" fill="#f8f870"/><rect x="764.34" y="509.30" width="8.91" height="9.90" fill="#f8f888"/><rect x="772.95" y="509.30" width="8.91" height="9.90" fill="#f8f8a0"/><rect x="781.56" y="509.30" width="8.91" height="9.90" fill="#f8f8b0"/><rect x="790.17" y="509.30" width="8.91" height="9.90" fill="#f8f8c8"/><rect x="798.78" y="509.30" width="8.91" height="9.90" fill="#f8f8d8"/>
<path d="M480.21 509.30L472.01 514.25L480.21 519.20Z" fill="#e0ffff"/>
<path d="M807.39 509.30L815.79 514.25L807.39 519.20Z" fill="#fffff0"/>
<path d="M480.21 509.30H807.39L815.79 514.25L807.39 519.20H480.21L472.01 514.25Z" fill="none" stroke="#000" stroke-width="2"/>
<path d="M479.26 519.20L481.16 519.20L480.61 526.4L479.81 526.4ZM487.87 519.20L489.77 519.20L489.22 526.4L488.42 526.4ZM496.48 519.20L498.38 519.20L497.83 526.4L497.03 526.4ZM513.70 519.20L515.60 519.20L515.05 526.4L514.25 526.4ZM522.31 519.20L524.21 519.20L523.66 526.4L522.86 526.4ZM530.92 519.20L532.82 519.20L532.27 526.4L531.47 526.4ZM539.53 519.20L541.43 519.20L540.88 526.4L540.08 526.4ZM548.14 519.20L550.04 519.20L549.49 526.4L548.69 526.4ZM556.75 519.20L558.65 519.20L558.10 526.4L557.30 526.4ZM565.36 519.20L567.26 519.20L566.71 526.4L565.91 526.4ZM582.58 519.20L584.48 519.20L583.93 526.4L583.13 526.4ZM591.19 519.20L593.09 519.20L592.54 526.4L591.74 526.4ZM599.80 519.20L601.70 519.20L601.15 526.4L600.35 526.4ZM608.41 519.20L610.31 519.20L609.76 526.4L608.96 526.4ZM617.02 519.20L618.92 519.20L618.37 526.4L617.57 526.4ZM625.63 519.20L627.53 519.20L626.98 526.4L626.18 526.4ZM634.24 519.20L636.14 519.20L635.59 526.4L634.79 526.4ZM651.46 519.20L653.36 519.20L652.81 526.4L652.01 526.4ZM660.07 519.20L661.97 519.20L661.42 526.4L660.62 526.4ZM668.68 519.20L670.58 519.20L670.03 526.4L669.23 526.4ZM677.29 519.20L679.19 519.20L678.64 526.4L677.84 526.4ZM685.90 519.20L687.80 519.20L687.25 526.4L686.45 526.4ZM694.51 519.20L696.41 519.20L695.86 526.4L695.06 526.4ZM703.12 519.20L705.02 519.20L704.47 526.4L703.67 526.4ZM720.34 519.20L722.24 519.20L721.69 526.4L720.89 526.4ZM728.95 519.20L730.85 519.20L730.30 526.4L729.50 526.4ZM737.56 519.20L739.46 519.20L738.91 526.4L738.11 526.4ZM746.17 519.20L748.07 519.20L747.52 526.4L746.72 526.4ZM754.78 519.20L756.68 519.20L756.13 526.4L755.33 526.4ZM763.39 519.20L765.29 519.20L764.74 526.4L763.94 526.4ZM772.00 519.20L773.90 519.20L773.35 526.4L772.55 526.4ZM789.22 519.20L791.12 519.20L790.57 526.4L789.77 526.4ZM797.83 519.20L799.73 519.20L799.18 526.4L798.38 526.4ZM806.44 519.20L808.34 519.20L807.79 526.4L806.99 526.4Z" fill="#000"/>
<path d="M488.82 509.30V519.20M497.43 509.30V519.20M506.04 509.30V533.70M506.04 509.30V519.20M514.65 509.30V519.20M523.26 509.30V519.20M531.87 509.30V519.20M540.48 509.30V519.20M549.09 509.30V519.20M557.70 509.30V519.20M566.31 509.30V519.20M574.92 509.30V533.70M574.92 509.30V519.20M583.53 509.30V519.20M592.14 509.30V519.20M600.75 509.30V519.20M609.36 509.30V519.20M617.97 509.30V519.20M626.58 509.30V519.20M635.19 509.30V519.20M643.80 509.30V533.70M643.80 509.30V519.20M652.41 509.30V519.20M661.02 509.30V519.20M669.63 509.30V519.20M678.24 509.30V519.20M686.85 509.30V519.20M695.46 509.30V519.20M704.07 509.30V519.20M712.68 509.30V533.70M712.68 509.30V519.20M721.29 509.30V519.20M729.90 509.30V519.20M738.51 509.30V519.20M747.12 509.30V519.20M755.73 509.30V519.20M764.34 509.30V519.20M772.95 509.30V519.20M781.56 509.30V533.70M781.56 509.30V519.20M790.17 509.30V519.20M798.78 509.30V519.20" stroke="#000" stroke-width="1.9" fill="none"/>
<text transform="translate(14.38 84.30) scale(1.0300 1)" font-family="'Liberation Sans', sans-serif" font-weight="bold" font-size="29.3" fill="#000" stroke="#000" stroke-width="0.7">8</text>
<text transform="translate(425.08 499.70) scale(1.0300 1)" font-family="'Liberation Sans', sans-serif" font-weight="bold" font-size="29.3" fill="#000" stroke="#000" stroke-width="0.7">8</text>
<text transform="translate(846.33 499.70) scale(1.0300 1)" font-family="'Liberation Sans', sans-serif" font-weight="bold" font-size="29.3" fill="#000" stroke="#000" stroke-width="0.7">8</text>
<text transform="translate(13.61 177.91) scale(1.0300 1)" font-family="'Liberation Sans', sans-serif" font-weight="bold" font-size="29.3" fill="#000" stroke="#000" stroke-width="0.7">4</text>
<text transform="translate(331.34 499.70) scale(1.0300 1)" font-family="'Liberation Sans', sans-serif" font-weight="bold" font-size="29.3" fill="#000" stroke="#000" stroke-width="0.7">4</text>
<text transform="translate(752.59 499.70) scale(1.0300 1)" font-family="'Liberation Sans', sans-serif" font-weight="bold" font-size="29.3" fill="#000" stroke="#000" stroke-width="0.7">4</text>
<text transform="translate(14.64 271.53) scale(1.0300 1)" font-family="'Liberation Sans', sans-serif" font-weight="bold" font-size="29.3" fill="#000" stroke="#000" stroke-width="0.7">0</text>
<text transform="translate(237.86 499.70) scale(1.0300 1)" font-family="'Liberation Sans', sans-serif" font-weight="bold" font-size="29.3" fill="#000" stroke="#000" stroke-width="0.7">0</text>
<text transform="translate(659.11 499.70) scale(1.0300 1)" font-family="'Liberation Sans', sans-serif" font-weight="bold" font-size="29.3" fill="#000" stroke="#000" stroke-width="0.7">0</text>
<text transform="translate(-1.39 365.14) scale(0.9550 1)" font-family="'Liberation Sans', sans-serif" font-weight="bold" font-size="29.3" fill="#000" stroke="#000" stroke-width="0.7">−4</text>
<text transform="translate(136.26 499.70) scale(0.9550 1)" font-family="'Liberation Sans', sans-serif" font-weight="bold" font-size="29.3" fill="#000" stroke="#000" stroke-width="0.7">−4</text>
<text transform="translate(557.51 499.70) scale(0.9550 1)" font-family="'Liberation Sans', sans-serif" font-weight="bold" font-size="29.3" fill="#000" stroke="#000" stroke-width="0.7">−4</text>
<text transform="translate(-0.68 458.75) scale(0.9550 1)" font-family="'Liberation Sans', sans-serif" font-weight="bold" font-size="29.3" fill="#000" stroke="#000" stroke-width="0.7">−8</text>
<text transform="translate(43.00 499.70) scale(0.9550 1)" font-family="'Liberation Sans', sans-serif" font-weight="bold" font-size="29.3" fill="#000" stroke="#000" stroke-width="0.7">−8</text>
<text transform="translate(464.25 499.70) scale(0.9550 1)" font-family="'Liberation Sans', sans-serif" font-weight="bold" font-size="29.3" fill="#000" stroke="#000" stroke-width="0.7">−8</text>
<text transform="translate(50.63 569.00) scale(1.0300 1)" font-family="'Liberation Sans', sans-serif" font-weight="bold" font-size="29.3" fill="#000" stroke="#000" stroke-width="0.7">0</text>
<text transform="translate(84.92 569.00) scale(0.9550 1)" font-family="'Liberation Sans', sans-serif" font-weight="bold" font-size="29.3" fill="#000" stroke="#000" stroke-width="0.7">2.5</text>
<text transform="translate(141.63 569.00) scale(1.0300 1)" font-family="'Liberation Sans', sans-serif" font-weight="bold" font-size="29.3" fill="#000" stroke="#000" stroke-width="0.7">5</text>
<text transform="translate(175.80 569.00) scale(0.9550 1)" font-family="'Liberation Sans', sans-serif" font-weight="bold" font-size="29.3" fill="#000" stroke="#000" stroke-width="0.7">7.5</text>
<text transform="translate(225.12 569.00) scale(0.9550 1)" font-family="'Liberation Sans', sans-serif" font-weight="bold" font-size="29.3" fill="#000" stroke="#000" stroke-width="0.7">10</text>
<text transform="translate(258.81 569.00) scale(0.9550 1)" font-family="'Liberation Sans', sans-serif" font-weight="bold" font-size="29.3" fill="#000" stroke="#000" stroke-width="0.7">12.5</text>
<text transform="translate(315.88 569.00) scale(0.9550 1)" font-family="'Liberation Sans', sans-serif" font-weight="bold" font-size="29.3" fill="#000" stroke="#000" stroke-width="0.7">15</text>
<text transform="translate(349.81 569.00) scale(0.9550 1)" font-family="'Liberation Sans', sans-serif" font-weight="bold" font-size="29.3" fill="#000" stroke="#000" stroke-width="0.7">17.5</text>
<text transform="translate(490.04 569.00) scale(0.9550 1)" font-family="'Liberation Sans', sans-serif" font-weight="bold" font-size="29.3" fill="#000" stroke="#000" stroke-width="0.7">−8</text>
<text transform="translate(558.57 569.00) scale(0.9550 1)" font-family="'Liberation Sans', sans-serif" font-weight="bold" font-size="29.3" fill="#000" stroke="#000" stroke-width="0.7">−4</text>
<text transform="translate(635.43 569.00) scale(1.0300 1)" font-family="'Liberation Sans', sans-serif" font-weight="bold" font-size="29.3" fill="#000" stroke="#000" stroke-width="0.7">0</text>
<text transform="translate(704.18 569.00) scale(1.0300 1)" font-family="'Liberation Sans', sans-serif" font-weight="bold" font-size="29.3" fill="#000" stroke="#000" stroke-width="0.7">4</text>
<text transform="translate(773.19 569.00) scale(1.0300 1)" font-family="'Liberation Sans', sans-serif" font-weight="bold" font-size="29.3" fill="#000" stroke="#000" stroke-width="0.7">8</text>
<text transform="translate(0 24.50) scale(0.9523 1)" font-family="'Liberation Sans', sans-serif" font-weight="bold" font-size="34.6" fill="#000" stroke="#000" stroke-width="0.5"><tspan x="63.00" textLength="151.80" lengthAdjust="spacingAndGlyphs">Fukuoka,</tspan> <tspan x="224.56" textLength="152.10" lengthAdjust="spacingAndGlyphs">20190119</tspan> <tspan x="387.37" textLength="106.19" lengthAdjust="spacingAndGlyphs">[03:26,</tspan> <tspan x="504.52" textLength="108.36" lengthAdjust="spacingAndGlyphs">el=0.0]</tspan></text>
<text transform="translate(0 58.50) scale(0.9262 1)" font-family="'Liberation Sans', sans-serif" font-weight="bold" font-size="29.4" fill="#000" stroke="#000" stroke-width="0.7"><tspan x="64.84" textLength="59.16" lengthAdjust="spacingAndGlyphs">SNR</tspan> <tspan x="133.60" textLength="58.77" lengthAdjust="spacingAndGlyphs">[dB]</tspan></text>
<text transform="translate(0 58.50) scale(0.9937 1)" font-family="'Liberation Sans', sans-serif" font-weight="bold" font-size="29.4" fill="#000" stroke="#000" stroke-width="0.7"><tspan x="484.26" textLength="110.42" lengthAdjust="spacingAndGlyphs">Doppler</tspan> <tspan x="602.63" textLength="111.09" lengthAdjust="spacingAndGlyphs">Velocity</tspan> <tspan x="722.47" textLength="71.56" lengthAdjust="spacingAndGlyphs">[m/s]</tspan></text>
</svg>
</body></html>
